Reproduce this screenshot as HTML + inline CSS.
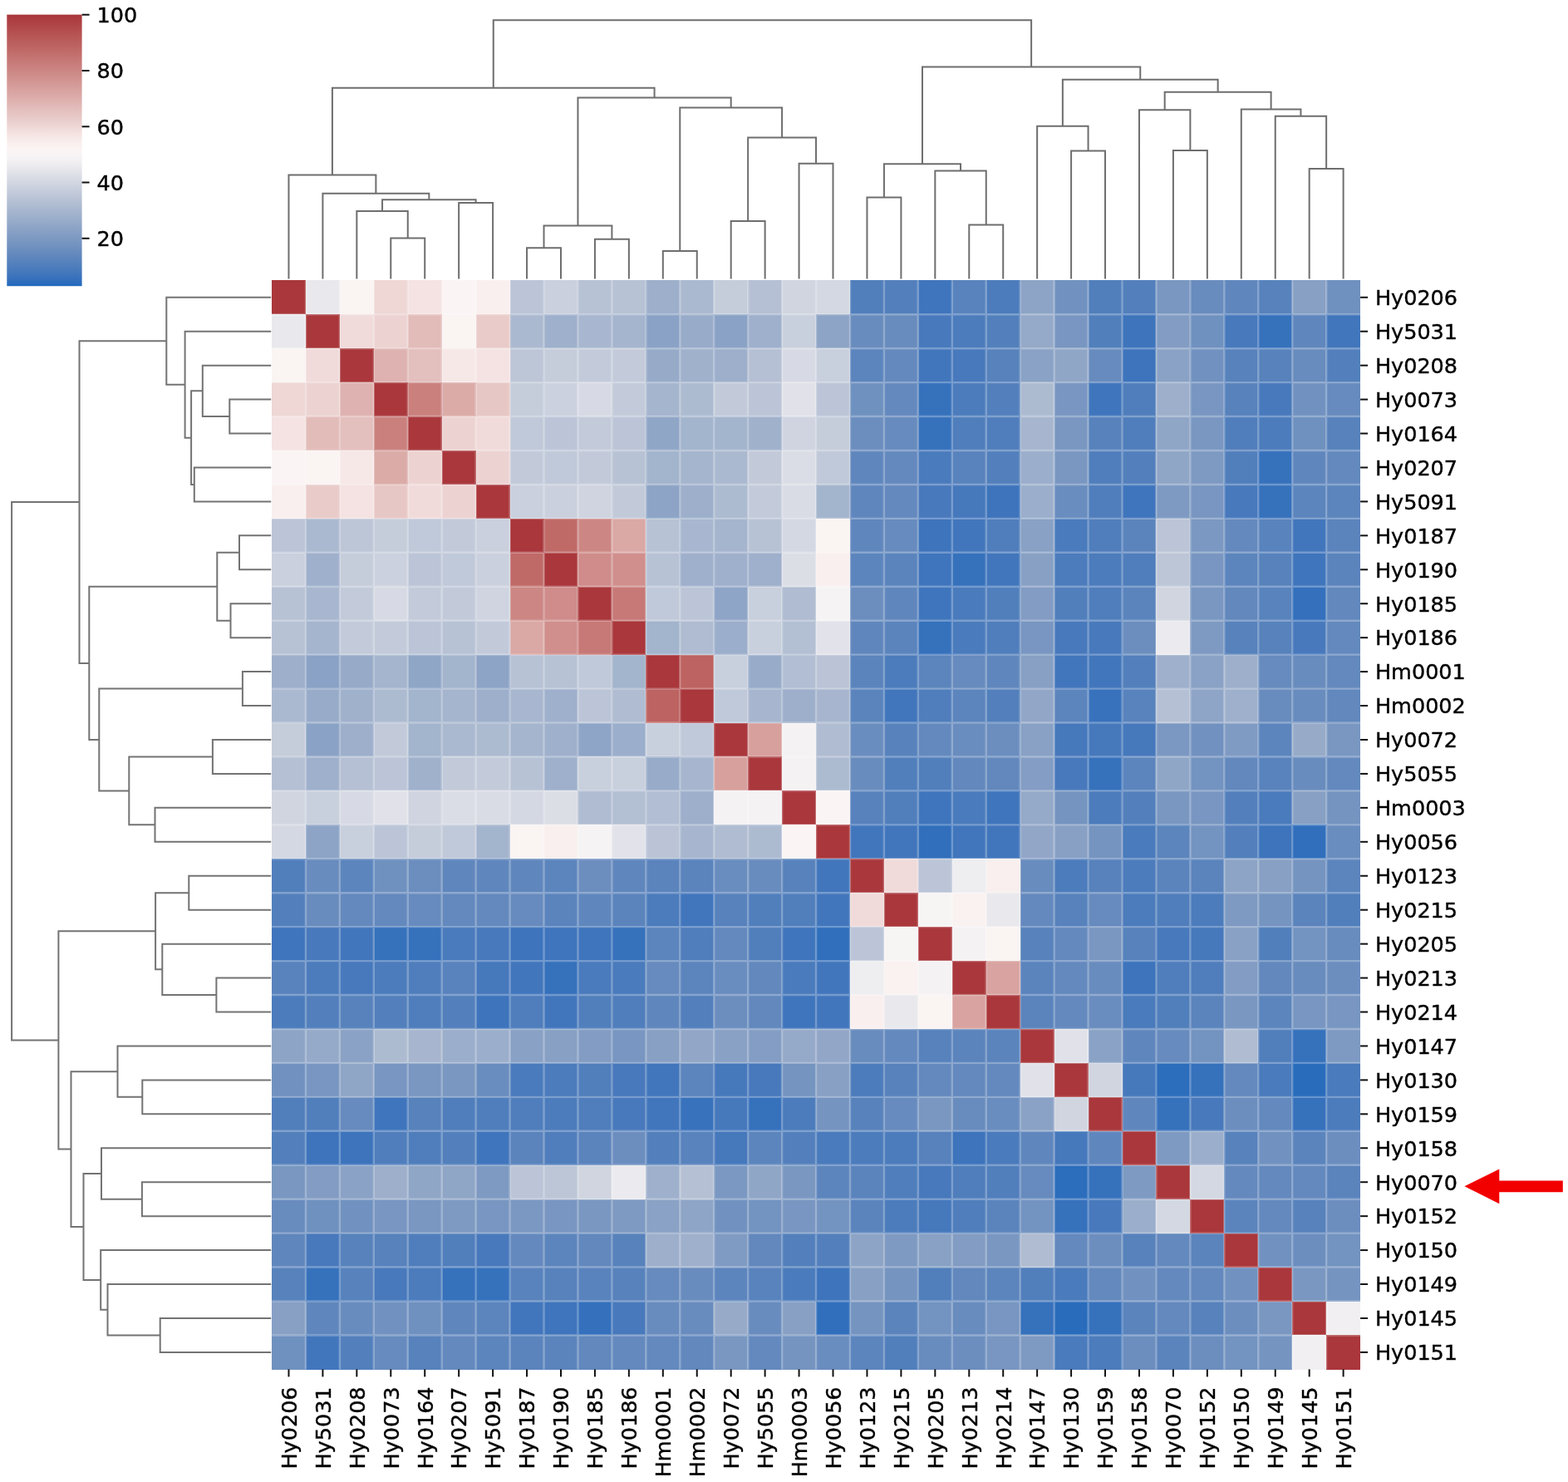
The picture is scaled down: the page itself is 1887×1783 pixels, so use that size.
<!DOCTYPE html><html><head><meta charset="utf-8"><title>Clustermap</title><style>html,body{margin:0;padding:0;background:#fff;}svg{display:block;}text{font-family:"DejaVu Sans","Liberation Sans",sans-serif;stroke:#000;stroke-width:0.4px;}</style></head><body>
<svg width="1887" height="1783" viewBox="0 0 1887 1783">
<rect x="0" y="0" width="1887" height="1783" fill="#fff"/>
<defs><linearGradient id="cb" x1="0" y1="0" x2="0" y2="1"><stop offset="0.0000" stop-color="#a9373b"/><stop offset="0.0312" stop-color="#ae4244"/><stop offset="0.0625" stop-color="#b44f4f"/><stop offset="0.0938" stop-color="#b95b5a"/><stop offset="0.1250" stop-color="#bf6765"/><stop offset="0.1562" stop-color="#c47371"/><stop offset="0.1875" stop-color="#c97f7d"/><stop offset="0.2188" stop-color="#ce8b88"/><stop offset="0.2500" stop-color="#d39794"/><stop offset="0.2812" stop-color="#d8a3a0"/><stop offset="0.3125" stop-color="#ddafad"/><stop offset="0.3438" stop-color="#e2bcb9"/><stop offset="0.3750" stop-color="#e7c8c6"/><stop offset="0.4062" stop-color="#edd5d3"/><stop offset="0.4375" stop-color="#f3e2e0"/><stop offset="0.4688" stop-color="#f9eeed"/><stop offset="0.5000" stop-color="#faf5f4"/><stop offset="0.5312" stop-color="#f5f2f4"/><stop offset="0.5625" stop-color="#e9e9ed"/><stop offset="0.5938" stop-color="#dcdee6"/><stop offset="0.6250" stop-color="#cfd4e0"/><stop offset="0.6562" stop-color="#c2cada"/><stop offset="0.6875" stop-color="#b5c0d4"/><stop offset="0.7188" stop-color="#a8b7cf"/><stop offset="0.7500" stop-color="#9baecb"/><stop offset="0.7812" stop-color="#8fa5c7"/><stop offset="0.8125" stop-color="#829cc3"/><stop offset="0.8438" stop-color="#7594c0"/><stop offset="0.8750" stop-color="#678bbe"/><stop offset="0.9062" stop-color="#5983bd"/><stop offset="0.9375" stop-color="#4a7bbc"/><stop offset="0.9688" stop-color="#3972bc"/><stop offset="1.0000" stop-color="#2369bd"/></linearGradient></defs>
<rect x="8.3" y="17.6" width="90.3" height="326.6" fill="url(#cb)"/>
<line x1="98.6" y1="286.8" x2="107.6" y2="286.8" stroke="#111" stroke-width="2"/>
<text x="116.5" y="296.1" font-size="25.5" fill="#000">20</text>
<line x1="98.6" y1="219.5" x2="107.6" y2="219.5" stroke="#111" stroke-width="2"/>
<text x="116.5" y="228.8" font-size="25.5" fill="#000">40</text>
<line x1="98.6" y1="152.3" x2="107.6" y2="152.3" stroke="#111" stroke-width="2"/>
<text x="116.5" y="161.6" font-size="25.5" fill="#000">60</text>
<line x1="98.6" y1="85.0" x2="107.6" y2="85.0" stroke="#111" stroke-width="2"/>
<text x="116.5" y="94.3" font-size="25.5" fill="#000">80</text>
<line x1="98.6" y1="17.7" x2="107.6" y2="17.7" stroke="#111" stroke-width="2"/>
<text x="116.5" y="27.0" font-size="25.5" fill="#000">100</text>
<g shape-rendering="crispEdges"><rect x="327.00" y="337.30" width="41.24" height="41.24" fill="#a9373b"/><rect x="367.94" y="337.30" width="41.24" height="41.24" fill="#e9e9ed"/><rect x="408.88" y="337.30" width="41.24" height="41.24" fill="#faf4f3"/><rect x="449.82" y="337.30" width="41.24" height="41.24" fill="#eed7d5"/><rect x="490.76" y="337.30" width="41.24" height="41.24" fill="#f4e3e2"/><rect x="531.70" y="337.30" width="41.24" height="41.24" fill="#faf5f4"/><rect x="572.64" y="337.30" width="41.24" height="41.24" fill="#f9efee"/><rect x="613.58" y="337.30" width="41.24" height="41.24" fill="#bbc5d7"/><rect x="654.52" y="337.30" width="41.24" height="41.24" fill="#cad0dd"/><rect x="695.46" y="337.30" width="41.24" height="41.24" fill="#b7c2d5"/><rect x="736.40" y="337.30" width="41.24" height="41.24" fill="#b7c2d5"/><rect x="777.34" y="337.30" width="41.24" height="41.24" fill="#9dafcb"/><rect x="818.28" y="337.30" width="41.24" height="41.24" fill="#abb9d0"/><rect x="859.22" y="337.30" width="41.24" height="41.24" fill="#c5cddb"/><rect x="900.16" y="337.30" width="41.24" height="41.24" fill="#b5c0d4"/><rect x="941.10" y="337.30" width="41.24" height="41.24" fill="#d0d5e0"/><rect x="982.04" y="337.30" width="41.24" height="41.24" fill="#d4d8e2"/><rect x="1022.98" y="337.30" width="41.24" height="41.24" fill="#517fbc"/><rect x="1063.92" y="337.30" width="41.24" height="41.24" fill="#5380bc"/><rect x="1104.86" y="337.30" width="41.24" height="41.24" fill="#3f75bc"/><rect x="1145.80" y="337.30" width="41.24" height="41.24" fill="#5983bd"/><rect x="1186.74" y="337.30" width="41.24" height="41.24" fill="#4c7cbc"/><rect x="1227.68" y="337.30" width="41.24" height="41.24" fill="#8da4c6"/><rect x="1268.62" y="337.30" width="41.24" height="41.24" fill="#7192c0"/><rect x="1309.56" y="337.30" width="41.24" height="41.24" fill="#517fbc"/><rect x="1350.50" y="337.30" width="41.24" height="41.24" fill="#5380bc"/><rect x="1391.44" y="337.30" width="41.24" height="41.24" fill="#7997c1"/><rect x="1432.38" y="337.30" width="41.24" height="41.24" fill="#698cbe"/><rect x="1473.32" y="337.30" width="41.24" height="41.24" fill="#6087bd"/><rect x="1514.26" y="337.30" width="41.24" height="41.24" fill="#5782bc"/><rect x="1555.20" y="337.30" width="41.24" height="41.24" fill="#87a0c4"/><rect x="1596.14" y="337.30" width="41.24" height="41.24" fill="#6f91bf"/><rect x="327.00" y="378.24" width="41.24" height="41.24" fill="#e9e9ed"/><rect x="367.94" y="378.24" width="41.24" height="41.24" fill="#a9373b"/><rect x="408.88" y="378.24" width="41.24" height="41.24" fill="#f0dbda"/><rect x="449.82" y="378.24" width="41.24" height="41.24" fill="#ecd3d2"/><rect x="490.76" y="378.24" width="41.24" height="41.24" fill="#e2bcb9"/><rect x="531.70" y="378.24" width="41.24" height="41.24" fill="#faf4f3"/><rect x="572.64" y="378.24" width="41.24" height="41.24" fill="#e9cbc9"/><rect x="613.58" y="378.24" width="41.24" height="41.24" fill="#abb9d0"/><rect x="654.52" y="378.24" width="41.24" height="41.24" fill="#9fb0cc"/><rect x="695.46" y="378.24" width="41.24" height="41.24" fill="#a8b7cf"/><rect x="736.40" y="378.24" width="41.24" height="41.24" fill="#a5b5ce"/><rect x="777.34" y="378.24" width="41.24" height="41.24" fill="#8aa2c5"/><rect x="818.28" y="378.24" width="41.24" height="41.24" fill="#98acc9"/><rect x="859.22" y="378.24" width="41.24" height="41.24" fill="#8aa2c5"/><rect x="900.16" y="378.24" width="41.24" height="41.24" fill="#9fb0cc"/><rect x="941.10" y="378.24" width="41.24" height="41.24" fill="#c8cfdd"/><rect x="982.04" y="378.24" width="41.24" height="41.24" fill="#8da4c6"/><rect x="1022.98" y="378.24" width="41.24" height="41.24" fill="#698cbe"/><rect x="1063.92" y="378.24" width="41.24" height="41.24" fill="#698cbe"/><rect x="1104.86" y="378.24" width="41.24" height="41.24" fill="#4879bc"/><rect x="1145.80" y="378.24" width="41.24" height="41.24" fill="#4c7cbc"/><rect x="1186.74" y="378.24" width="41.24" height="41.24" fill="#5380bc"/><rect x="1227.68" y="378.24" width="41.24" height="41.24" fill="#95a9c8"/><rect x="1268.62" y="378.24" width="41.24" height="41.24" fill="#7896c1"/><rect x="1309.56" y="378.24" width="41.24" height="41.24" fill="#517fbc"/><rect x="1350.50" y="378.24" width="41.24" height="41.24" fill="#3d74bc"/><rect x="1391.44" y="378.24" width="41.24" height="41.24" fill="#829cc3"/><rect x="1432.38" y="378.24" width="41.24" height="41.24" fill="#6f91bf"/><rect x="1473.32" y="378.24" width="41.24" height="41.24" fill="#4879bc"/><rect x="1514.26" y="378.24" width="41.24" height="41.24" fill="#3671bc"/><rect x="1555.20" y="378.24" width="41.24" height="41.24" fill="#6087bd"/><rect x="1596.14" y="378.24" width="41.24" height="41.24" fill="#4276bc"/><rect x="327.00" y="419.18" width="41.24" height="41.24" fill="#faf4f3"/><rect x="367.94" y="419.18" width="41.24" height="41.24" fill="#f0dbda"/><rect x="408.88" y="419.18" width="41.24" height="41.24" fill="#a9373b"/><rect x="449.82" y="419.18" width="41.24" height="41.24" fill="#deb2b0"/><rect x="490.76" y="419.18" width="41.24" height="41.24" fill="#e3bfbd"/><rect x="531.70" y="419.18" width="41.24" height="41.24" fill="#f6e8e7"/><rect x="572.64" y="419.18" width="41.24" height="41.24" fill="#f4e3e2"/><rect x="613.58" y="419.18" width="41.24" height="41.24" fill="#bdc6d7"/><rect x="654.52" y="419.18" width="41.24" height="41.24" fill="#c5cddb"/><rect x="695.46" y="419.18" width="41.24" height="41.24" fill="#c3cbda"/><rect x="736.40" y="419.18" width="41.24" height="41.24" fill="#c3cbda"/><rect x="777.34" y="419.18" width="41.24" height="41.24" fill="#97abc9"/><rect x="818.28" y="419.18" width="41.24" height="41.24" fill="#a0b1cc"/><rect x="859.22" y="419.18" width="41.24" height="41.24" fill="#9dafcb"/><rect x="900.16" y="419.18" width="41.24" height="41.24" fill="#b5c0d4"/><rect x="941.10" y="419.18" width="41.24" height="41.24" fill="#d7dae4"/><rect x="982.04" y="419.18" width="41.24" height="41.24" fill="#c8cfdd"/><rect x="1022.98" y="419.18" width="41.24" height="41.24" fill="#5c85bd"/><rect x="1063.92" y="419.18" width="41.24" height="41.24" fill="#6489be"/><rect x="1104.86" y="419.18" width="41.24" height="41.24" fill="#4276bc"/><rect x="1145.80" y="419.18" width="41.24" height="41.24" fill="#4879bc"/><rect x="1186.74" y="419.18" width="41.24" height="41.24" fill="#5782bc"/><rect x="1227.68" y="419.18" width="41.24" height="41.24" fill="#8aa2c5"/><rect x="1268.62" y="419.18" width="41.24" height="41.24" fill="#90a6c7"/><rect x="1309.56" y="419.18" width="41.24" height="41.24" fill="#678bbe"/><rect x="1350.50" y="419.18" width="41.24" height="41.24" fill="#3d74bc"/><rect x="1391.44" y="419.18" width="41.24" height="41.24" fill="#8aa2c5"/><rect x="1432.38" y="419.18" width="41.24" height="41.24" fill="#7192c0"/><rect x="1473.32" y="419.18" width="41.24" height="41.24" fill="#5782bc"/><rect x="1514.26" y="419.18" width="41.24" height="41.24" fill="#5782bc"/><rect x="1555.20" y="419.18" width="41.24" height="41.24" fill="#698cbe"/><rect x="1596.14" y="419.18" width="41.24" height="41.24" fill="#5380bc"/><rect x="327.00" y="460.12" width="41.24" height="41.24" fill="#eed7d5"/><rect x="367.94" y="460.12" width="41.24" height="41.24" fill="#ecd3d2"/><rect x="408.88" y="460.12" width="41.24" height="41.24" fill="#deb2b0"/><rect x="449.82" y="460.12" width="41.24" height="41.24" fill="#a9373b"/><rect x="490.76" y="460.12" width="41.24" height="41.24" fill="#ca817e"/><rect x="531.70" y="460.12" width="41.24" height="41.24" fill="#dbaba8"/><rect x="572.64" y="460.12" width="41.24" height="41.24" fill="#e7c7c5"/><rect x="613.58" y="460.12" width="41.24" height="41.24" fill="#c5cddb"/><rect x="654.52" y="460.12" width="41.24" height="41.24" fill="#cbd1de"/><rect x="695.46" y="460.12" width="41.24" height="41.24" fill="#d7dae4"/><rect x="736.40" y="460.12" width="41.24" height="41.24" fill="#c3cbda"/><rect x="777.34" y="460.12" width="41.24" height="41.24" fill="#a5b5ce"/><rect x="818.28" y="460.12" width="41.24" height="41.24" fill="#adbbd1"/><rect x="859.22" y="460.12" width="41.24" height="41.24" fill="#c2cada"/><rect x="900.16" y="460.12" width="41.24" height="41.24" fill="#bbc5d7"/><rect x="941.10" y="460.12" width="41.24" height="41.24" fill="#e1e2e9"/><rect x="982.04" y="460.12" width="41.24" height="41.24" fill="#bbc5d7"/><rect x="1022.98" y="460.12" width="41.24" height="41.24" fill="#6f91bf"/><rect x="1063.92" y="460.12" width="41.24" height="41.24" fill="#6489be"/><rect x="1104.86" y="460.12" width="41.24" height="41.24" fill="#3671bc"/><rect x="1145.80" y="460.12" width="41.24" height="41.24" fill="#4c7cbc"/><rect x="1186.74" y="460.12" width="41.24" height="41.24" fill="#5380bc"/><rect x="1227.68" y="460.12" width="41.24" height="41.24" fill="#adbbd1"/><rect x="1268.62" y="460.12" width="41.24" height="41.24" fill="#7896c1"/><rect x="1309.56" y="460.12" width="41.24" height="41.24" fill="#3f75bc"/><rect x="1350.50" y="460.12" width="41.24" height="41.24" fill="#507ebc"/><rect x="1391.44" y="460.12" width="41.24" height="41.24" fill="#9dafcb"/><rect x="1432.38" y="460.12" width="41.24" height="41.24" fill="#7896c1"/><rect x="1473.32" y="460.12" width="41.24" height="41.24" fill="#5782bc"/><rect x="1514.26" y="460.12" width="41.24" height="41.24" fill="#4879bc"/><rect x="1555.20" y="460.12" width="41.24" height="41.24" fill="#7192c0"/><rect x="1596.14" y="460.12" width="41.24" height="41.24" fill="#678bbe"/><rect x="327.00" y="501.06" width="41.24" height="41.24" fill="#f4e3e2"/><rect x="367.94" y="501.06" width="41.24" height="41.24" fill="#e2bcb9"/><rect x="408.88" y="501.06" width="41.24" height="41.24" fill="#e3bfbd"/><rect x="449.82" y="501.06" width="41.24" height="41.24" fill="#ca817e"/><rect x="490.76" y="501.06" width="41.24" height="41.24" fill="#a9373b"/><rect x="531.70" y="501.06" width="41.24" height="41.24" fill="#ecd3d2"/><rect x="572.64" y="501.06" width="41.24" height="41.24" fill="#f0dbda"/><rect x="613.58" y="501.06" width="41.24" height="41.24" fill="#c0c9d9"/><rect x="654.52" y="501.06" width="41.24" height="41.24" fill="#bbc5d7"/><rect x="695.46" y="501.06" width="41.24" height="41.24" fill="#c3cbda"/><rect x="736.40" y="501.06" width="41.24" height="41.24" fill="#bbc5d7"/><rect x="777.34" y="501.06" width="41.24" height="41.24" fill="#90a6c7"/><rect x="818.28" y="501.06" width="41.24" height="41.24" fill="#a3b4cd"/><rect x="859.22" y="501.06" width="41.24" height="41.24" fill="#a3b4cd"/><rect x="900.16" y="501.06" width="41.24" height="41.24" fill="#a0b1cc"/><rect x="941.10" y="501.06" width="41.24" height="41.24" fill="#cfd4e0"/><rect x="982.04" y="501.06" width="41.24" height="41.24" fill="#c5cddb"/><rect x="1022.98" y="501.06" width="41.24" height="41.24" fill="#6c8ebf"/><rect x="1063.92" y="501.06" width="41.24" height="41.24" fill="#678bbe"/><rect x="1104.86" y="501.06" width="41.24" height="41.24" fill="#3671bc"/><rect x="1145.80" y="501.06" width="41.24" height="41.24" fill="#507ebc"/><rect x="1186.74" y="501.06" width="41.24" height="41.24" fill="#507ebc"/><rect x="1227.68" y="501.06" width="41.24" height="41.24" fill="#a7b6ce"/><rect x="1268.62" y="501.06" width="41.24" height="41.24" fill="#7997c1"/><rect x="1309.56" y="501.06" width="41.24" height="41.24" fill="#5782bc"/><rect x="1350.50" y="501.06" width="41.24" height="41.24" fill="#507ebc"/><rect x="1391.44" y="501.06" width="41.24" height="41.24" fill="#90a6c7"/><rect x="1432.38" y="501.06" width="41.24" height="41.24" fill="#7997c1"/><rect x="1473.32" y="501.06" width="41.24" height="41.24" fill="#507ebc"/><rect x="1514.26" y="501.06" width="41.24" height="41.24" fill="#4c7cbc"/><rect x="1555.20" y="501.06" width="41.24" height="41.24" fill="#6f91bf"/><rect x="1596.14" y="501.06" width="41.24" height="41.24" fill="#5782bc"/><rect x="327.00" y="542.00" width="41.24" height="41.24" fill="#faf5f4"/><rect x="367.94" y="542.00" width="41.24" height="41.24" fill="#faf4f3"/><rect x="408.88" y="542.00" width="41.24" height="41.24" fill="#f6e8e7"/><rect x="449.82" y="542.00" width="41.24" height="41.24" fill="#dbaba8"/><rect x="490.76" y="542.00" width="41.24" height="41.24" fill="#ecd3d2"/><rect x="531.70" y="542.00" width="41.24" height="41.24" fill="#a9373b"/><rect x="572.64" y="542.00" width="41.24" height="41.24" fill="#ecd3d2"/><rect x="613.58" y="542.00" width="41.24" height="41.24" fill="#c2cada"/><rect x="654.52" y="542.00" width="41.24" height="41.24" fill="#c0c9d9"/><rect x="695.46" y="542.00" width="41.24" height="41.24" fill="#c2cada"/><rect x="736.40" y="542.00" width="41.24" height="41.24" fill="#b7c2d5"/><rect x="777.34" y="542.00" width="41.24" height="41.24" fill="#a3b4cd"/><rect x="818.28" y="542.00" width="41.24" height="41.24" fill="#a5b5ce"/><rect x="859.22" y="542.00" width="41.24" height="41.24" fill="#abb9d0"/><rect x="900.16" y="542.00" width="41.24" height="41.24" fill="#c2cada"/><rect x="941.10" y="542.00" width="41.24" height="41.24" fill="#dadde5"/><rect x="982.04" y="542.00" width="41.24" height="41.24" fill="#c0c9d9"/><rect x="1022.98" y="542.00" width="41.24" height="41.24" fill="#6087bd"/><rect x="1063.92" y="542.00" width="41.24" height="41.24" fill="#6489be"/><rect x="1104.86" y="542.00" width="41.24" height="41.24" fill="#4a7bbc"/><rect x="1145.80" y="542.00" width="41.24" height="41.24" fill="#5983bd"/><rect x="1186.74" y="542.00" width="41.24" height="41.24" fill="#5380bc"/><rect x="1227.68" y="542.00" width="41.24" height="41.24" fill="#9baecb"/><rect x="1268.62" y="542.00" width="41.24" height="41.24" fill="#7997c1"/><rect x="1309.56" y="542.00" width="41.24" height="41.24" fill="#507ebc"/><rect x="1350.50" y="542.00" width="41.24" height="41.24" fill="#5380bc"/><rect x="1391.44" y="542.00" width="41.24" height="41.24" fill="#90a6c7"/><rect x="1432.38" y="542.00" width="41.24" height="41.24" fill="#7e9ac2"/><rect x="1473.32" y="542.00" width="41.24" height="41.24" fill="#517fbc"/><rect x="1514.26" y="542.00" width="41.24" height="41.24" fill="#3671bc"/><rect x="1555.20" y="542.00" width="41.24" height="41.24" fill="#6087bd"/><rect x="1596.14" y="542.00" width="41.24" height="41.24" fill="#6489be"/><rect x="327.00" y="582.94" width="41.24" height="41.24" fill="#f9efee"/><rect x="367.94" y="582.94" width="41.24" height="41.24" fill="#e9cbc9"/><rect x="408.88" y="582.94" width="41.24" height="41.24" fill="#f4e3e2"/><rect x="449.82" y="582.94" width="41.24" height="41.24" fill="#e7c7c5"/><rect x="490.76" y="582.94" width="41.24" height="41.24" fill="#f0dbda"/><rect x="531.70" y="582.94" width="41.24" height="41.24" fill="#ecd3d2"/><rect x="572.64" y="582.94" width="41.24" height="41.24" fill="#a9373b"/><rect x="613.58" y="582.94" width="41.24" height="41.24" fill="#cad0dd"/><rect x="654.52" y="582.94" width="41.24" height="41.24" fill="#cad0dd"/><rect x="695.46" y="582.94" width="41.24" height="41.24" fill="#cfd4e0"/><rect x="736.40" y="582.94" width="41.24" height="41.24" fill="#c2cada"/><rect x="777.34" y="582.94" width="41.24" height="41.24" fill="#8da4c6"/><rect x="818.28" y="582.94" width="41.24" height="41.24" fill="#9dafcb"/><rect x="859.22" y="582.94" width="41.24" height="41.24" fill="#adbbd1"/><rect x="900.16" y="582.94" width="41.24" height="41.24" fill="#c3cbda"/><rect x="941.10" y="582.94" width="41.24" height="41.24" fill="#d9dce5"/><rect x="982.04" y="582.94" width="41.24" height="41.24" fill="#a3b4cd"/><rect x="1022.98" y="582.94" width="41.24" height="41.24" fill="#6087bd"/><rect x="1063.92" y="582.94" width="41.24" height="41.24" fill="#6489be"/><rect x="1104.86" y="582.94" width="41.24" height="41.24" fill="#4879bc"/><rect x="1145.80" y="582.94" width="41.24" height="41.24" fill="#4678bc"/><rect x="1186.74" y="582.94" width="41.24" height="41.24" fill="#3d74bc"/><rect x="1227.68" y="582.94" width="41.24" height="41.24" fill="#9baecb"/><rect x="1268.62" y="582.94" width="41.24" height="41.24" fill="#6a8dbf"/><rect x="1309.56" y="582.94" width="41.24" height="41.24" fill="#507ebc"/><rect x="1350.50" y="582.94" width="41.24" height="41.24" fill="#3f75bc"/><rect x="1391.44" y="582.94" width="41.24" height="41.24" fill="#7e9ac2"/><rect x="1432.38" y="582.94" width="41.24" height="41.24" fill="#7896c1"/><rect x="1473.32" y="582.94" width="41.24" height="41.24" fill="#4879bc"/><rect x="1514.26" y="582.94" width="41.24" height="41.24" fill="#3671bc"/><rect x="1555.20" y="582.94" width="41.24" height="41.24" fill="#5c85bd"/><rect x="1596.14" y="582.94" width="41.24" height="41.24" fill="#5c85bd"/><rect x="327.00" y="623.88" width="41.24" height="41.24" fill="#bbc5d7"/><rect x="367.94" y="623.88" width="41.24" height="41.24" fill="#abb9d0"/><rect x="408.88" y="623.88" width="41.24" height="41.24" fill="#bdc6d7"/><rect x="449.82" y="623.88" width="41.24" height="41.24" fill="#c5cddb"/><rect x="490.76" y="623.88" width="41.24" height="41.24" fill="#c0c9d9"/><rect x="531.70" y="623.88" width="41.24" height="41.24" fill="#c2cada"/><rect x="572.64" y="623.88" width="41.24" height="41.24" fill="#cad0dd"/><rect x="613.58" y="623.88" width="41.24" height="41.24" fill="#a9373b"/><rect x="654.52" y="623.88" width="41.24" height="41.24" fill="#c06a68"/><rect x="695.46" y="623.88" width="41.24" height="41.24" fill="#cc8784"/><rect x="736.40" y="623.88" width="41.24" height="41.24" fill="#daa8a5"/><rect x="777.34" y="623.88" width="41.24" height="41.24" fill="#b7c2d5"/><rect x="818.28" y="623.88" width="41.24" height="41.24" fill="#a8b7cf"/><rect x="859.22" y="623.88" width="41.24" height="41.24" fill="#a5b5ce"/><rect x="900.16" y="623.88" width="41.24" height="41.24" fill="#b7c2d5"/><rect x="941.10" y="623.88" width="41.24" height="41.24" fill="#d4d8e2"/><rect x="982.04" y="623.88" width="41.24" height="41.24" fill="#faf4f3"/><rect x="1022.98" y="623.88" width="41.24" height="41.24" fill="#6087bd"/><rect x="1063.92" y="623.88" width="41.24" height="41.24" fill="#678bbe"/><rect x="1104.86" y="623.88" width="41.24" height="41.24" fill="#3d74bc"/><rect x="1145.80" y="623.88" width="41.24" height="41.24" fill="#4276bc"/><rect x="1186.74" y="623.88" width="41.24" height="41.24" fill="#507ebc"/><rect x="1227.68" y="623.88" width="41.24" height="41.24" fill="#88a1c5"/><rect x="1268.62" y="623.88" width="41.24" height="41.24" fill="#4a7bbc"/><rect x="1309.56" y="623.88" width="41.24" height="41.24" fill="#507ebc"/><rect x="1350.50" y="623.88" width="41.24" height="41.24" fill="#5b84bd"/><rect x="1391.44" y="623.88" width="41.24" height="41.24" fill="#bbc5d7"/><rect x="1432.38" y="623.88" width="41.24" height="41.24" fill="#7b98c2"/><rect x="1473.32" y="623.88" width="41.24" height="41.24" fill="#6489be"/><rect x="1514.26" y="623.88" width="41.24" height="41.24" fill="#5983bd"/><rect x="1555.20" y="623.88" width="41.24" height="41.24" fill="#4276bc"/><rect x="1596.14" y="623.88" width="41.24" height="41.24" fill="#5b84bd"/><rect x="327.00" y="664.82" width="41.24" height="41.24" fill="#cad0dd"/><rect x="367.94" y="664.82" width="41.24" height="41.24" fill="#9fb0cc"/><rect x="408.88" y="664.82" width="41.24" height="41.24" fill="#c5cddb"/><rect x="449.82" y="664.82" width="41.24" height="41.24" fill="#cbd1de"/><rect x="490.76" y="664.82" width="41.24" height="41.24" fill="#bbc5d7"/><rect x="531.70" y="664.82" width="41.24" height="41.24" fill="#c0c9d9"/><rect x="572.64" y="664.82" width="41.24" height="41.24" fill="#cad0dd"/><rect x="613.58" y="664.82" width="41.24" height="41.24" fill="#c06a68"/><rect x="654.52" y="664.82" width="41.24" height="41.24" fill="#a9373b"/><rect x="695.46" y="664.82" width="41.24" height="41.24" fill="#cf8c8a"/><rect x="736.40" y="664.82" width="41.24" height="41.24" fill="#d08f8d"/><rect x="777.34" y="664.82" width="41.24" height="41.24" fill="#b7c2d5"/><rect x="818.28" y="664.82" width="41.24" height="41.24" fill="#9fb0cc"/><rect x="859.22" y="664.82" width="41.24" height="41.24" fill="#9fb0cc"/><rect x="900.16" y="664.82" width="41.24" height="41.24" fill="#9fb0cc"/><rect x="941.10" y="664.82" width="41.24" height="41.24" fill="#dcdee6"/><rect x="982.04" y="664.82" width="41.24" height="41.24" fill="#f9efee"/><rect x="1022.98" y="664.82" width="41.24" height="41.24" fill="#5c85bd"/><rect x="1063.92" y="664.82" width="41.24" height="41.24" fill="#5b84bd"/><rect x="1104.86" y="664.82" width="41.24" height="41.24" fill="#3f75bc"/><rect x="1145.80" y="664.82" width="41.24" height="41.24" fill="#3671bc"/><rect x="1186.74" y="664.82" width="41.24" height="41.24" fill="#4276bc"/><rect x="1227.68" y="664.82" width="41.24" height="41.24" fill="#87a0c4"/><rect x="1268.62" y="664.82" width="41.24" height="41.24" fill="#4c7cbc"/><rect x="1309.56" y="664.82" width="41.24" height="41.24" fill="#4c7cbc"/><rect x="1350.50" y="664.82" width="41.24" height="41.24" fill="#507ebc"/><rect x="1391.44" y="664.82" width="41.24" height="41.24" fill="#bdc6d7"/><rect x="1432.38" y="664.82" width="41.24" height="41.24" fill="#7896c1"/><rect x="1473.32" y="664.82" width="41.24" height="41.24" fill="#5c85bd"/><rect x="1514.26" y="664.82" width="41.24" height="41.24" fill="#5782bc"/><rect x="1555.20" y="664.82" width="41.24" height="41.24" fill="#3f75bc"/><rect x="1596.14" y="664.82" width="41.24" height="41.24" fill="#5b84bd"/><rect x="327.00" y="705.76" width="41.24" height="41.24" fill="#b7c2d5"/><rect x="367.94" y="705.76" width="41.24" height="41.24" fill="#a8b7cf"/><rect x="408.88" y="705.76" width="41.24" height="41.24" fill="#c3cbda"/><rect x="449.82" y="705.76" width="41.24" height="41.24" fill="#d7dae4"/><rect x="490.76" y="705.76" width="41.24" height="41.24" fill="#c3cbda"/><rect x="531.70" y="705.76" width="41.24" height="41.24" fill="#c2cada"/><rect x="572.64" y="705.76" width="41.24" height="41.24" fill="#cfd4e0"/><rect x="613.58" y="705.76" width="41.24" height="41.24" fill="#cc8784"/><rect x="654.52" y="705.76" width="41.24" height="41.24" fill="#cf8c8a"/><rect x="695.46" y="705.76" width="41.24" height="41.24" fill="#a9373b"/><rect x="736.40" y="705.76" width="41.24" height="41.24" fill="#c77977"/><rect x="777.34" y="705.76" width="41.24" height="41.24" fill="#c0c9d9"/><rect x="818.28" y="705.76" width="41.24" height="41.24" fill="#bbc5d7"/><rect x="859.22" y="705.76" width="41.24" height="41.24" fill="#8fa5c7"/><rect x="900.16" y="705.76" width="41.24" height="41.24" fill="#c8cfdd"/><rect x="941.10" y="705.76" width="41.24" height="41.24" fill="#afbcd1"/><rect x="982.04" y="705.76" width="41.24" height="41.24" fill="#f6f3f4"/><rect x="1022.98" y="705.76" width="41.24" height="41.24" fill="#6c8ebf"/><rect x="1063.92" y="705.76" width="41.24" height="41.24" fill="#6087bd"/><rect x="1104.86" y="705.76" width="41.24" height="41.24" fill="#3f75bc"/><rect x="1145.80" y="705.76" width="41.24" height="41.24" fill="#4a7bbc"/><rect x="1186.74" y="705.76" width="41.24" height="41.24" fill="#517fbc"/><rect x="1227.68" y="705.76" width="41.24" height="41.24" fill="#829cc3"/><rect x="1268.62" y="705.76" width="41.24" height="41.24" fill="#517fbc"/><rect x="1309.56" y="705.76" width="41.24" height="41.24" fill="#507ebc"/><rect x="1350.50" y="705.76" width="41.24" height="41.24" fill="#5b84bd"/><rect x="1391.44" y="705.76" width="41.24" height="41.24" fill="#d0d5e0"/><rect x="1432.38" y="705.76" width="41.24" height="41.24" fill="#7997c1"/><rect x="1473.32" y="705.76" width="41.24" height="41.24" fill="#6288bd"/><rect x="1514.26" y="705.76" width="41.24" height="41.24" fill="#5983bd"/><rect x="1555.20" y="705.76" width="41.24" height="41.24" fill="#3470bc"/><rect x="1596.14" y="705.76" width="41.24" height="41.24" fill="#6288bd"/><rect x="327.00" y="746.70" width="41.24" height="41.24" fill="#b7c2d5"/><rect x="367.94" y="746.70" width="41.24" height="41.24" fill="#a5b5ce"/><rect x="408.88" y="746.70" width="41.24" height="41.24" fill="#c3cbda"/><rect x="449.82" y="746.70" width="41.24" height="41.24" fill="#c3cbda"/><rect x="490.76" y="746.70" width="41.24" height="41.24" fill="#bbc5d7"/><rect x="531.70" y="746.70" width="41.24" height="41.24" fill="#b7c2d5"/><rect x="572.64" y="746.70" width="41.24" height="41.24" fill="#c2cada"/><rect x="613.58" y="746.70" width="41.24" height="41.24" fill="#daa8a5"/><rect x="654.52" y="746.70" width="41.24" height="41.24" fill="#d08f8d"/><rect x="695.46" y="746.70" width="41.24" height="41.24" fill="#c77977"/><rect x="736.40" y="746.70" width="41.24" height="41.24" fill="#a9373b"/><rect x="777.34" y="746.70" width="41.24" height="41.24" fill="#a3b4cd"/><rect x="818.28" y="746.70" width="41.24" height="41.24" fill="#afbcd1"/><rect x="859.22" y="746.70" width="41.24" height="41.24" fill="#9baecb"/><rect x="900.16" y="746.70" width="41.24" height="41.24" fill="#c8cfdd"/><rect x="941.10" y="746.70" width="41.24" height="41.24" fill="#b3bfd3"/><rect x="982.04" y="746.70" width="41.24" height="41.24" fill="#e2e3ea"/><rect x="1022.98" y="746.70" width="41.24" height="41.24" fill="#6087bd"/><rect x="1063.92" y="746.70" width="41.24" height="41.24" fill="#5b84bd"/><rect x="1104.86" y="746.70" width="41.24" height="41.24" fill="#3671bc"/><rect x="1145.80" y="746.70" width="41.24" height="41.24" fill="#4a7bbc"/><rect x="1186.74" y="746.70" width="41.24" height="41.24" fill="#507ebc"/><rect x="1227.68" y="746.70" width="41.24" height="41.24" fill="#7896c1"/><rect x="1268.62" y="746.70" width="41.24" height="41.24" fill="#4879bc"/><rect x="1309.56" y="746.70" width="41.24" height="41.24" fill="#4879bc"/><rect x="1350.50" y="746.70" width="41.24" height="41.24" fill="#6c8ebf"/><rect x="1391.44" y="746.70" width="41.24" height="41.24" fill="#ebeaee"/><rect x="1432.38" y="746.70" width="41.24" height="41.24" fill="#7e9ac2"/><rect x="1473.32" y="746.70" width="41.24" height="41.24" fill="#5782bc"/><rect x="1514.26" y="746.70" width="41.24" height="41.24" fill="#5782bc"/><rect x="1555.20" y="746.70" width="41.24" height="41.24" fill="#4879bc"/><rect x="1596.14" y="746.70" width="41.24" height="41.24" fill="#6489be"/><rect x="327.00" y="787.64" width="41.24" height="41.24" fill="#9dafcb"/><rect x="367.94" y="787.64" width="41.24" height="41.24" fill="#8aa2c5"/><rect x="408.88" y="787.64" width="41.24" height="41.24" fill="#97abc9"/><rect x="449.82" y="787.64" width="41.24" height="41.24" fill="#a5b5ce"/><rect x="490.76" y="787.64" width="41.24" height="41.24" fill="#90a6c7"/><rect x="531.70" y="787.64" width="41.24" height="41.24" fill="#a3b4cd"/><rect x="572.64" y="787.64" width="41.24" height="41.24" fill="#8da4c6"/><rect x="613.58" y="787.64" width="41.24" height="41.24" fill="#b7c2d5"/><rect x="654.52" y="787.64" width="41.24" height="41.24" fill="#b7c2d5"/><rect x="695.46" y="787.64" width="41.24" height="41.24" fill="#c0c9d9"/><rect x="736.40" y="787.64" width="41.24" height="41.24" fill="#a3b4cd"/><rect x="777.34" y="787.64" width="41.24" height="41.24" fill="#a9373b"/><rect x="818.28" y="787.64" width="41.24" height="41.24" fill="#bd6361"/><rect x="859.22" y="787.64" width="41.24" height="41.24" fill="#c8cfdd"/><rect x="900.16" y="787.64" width="41.24" height="41.24" fill="#98acc9"/><rect x="941.10" y="787.64" width="41.24" height="41.24" fill="#b2bed3"/><rect x="982.04" y="787.64" width="41.24" height="41.24" fill="#bac4d6"/><rect x="1022.98" y="787.64" width="41.24" height="41.24" fill="#5b84bd"/><rect x="1063.92" y="787.64" width="41.24" height="41.24" fill="#4c7cbc"/><rect x="1104.86" y="787.64" width="41.24" height="41.24" fill="#5c85bd"/><rect x="1145.80" y="787.64" width="41.24" height="41.24" fill="#678bbe"/><rect x="1186.74" y="787.64" width="41.24" height="41.24" fill="#6087bd"/><rect x="1227.68" y="787.64" width="41.24" height="41.24" fill="#87a0c4"/><rect x="1268.62" y="787.64" width="41.24" height="41.24" fill="#4276bc"/><rect x="1309.56" y="787.64" width="41.24" height="41.24" fill="#4276bc"/><rect x="1350.50" y="787.64" width="41.24" height="41.24" fill="#5380bc"/><rect x="1391.44" y="787.64" width="41.24" height="41.24" fill="#9fb0cc"/><rect x="1432.38" y="787.64" width="41.24" height="41.24" fill="#8aa2c5"/><rect x="1473.32" y="787.64" width="41.24" height="41.24" fill="#9dafcb"/><rect x="1514.26" y="787.64" width="41.24" height="41.24" fill="#678bbe"/><rect x="1555.20" y="787.64" width="41.24" height="41.24" fill="#698cbe"/><rect x="1596.14" y="787.64" width="41.24" height="41.24" fill="#6489be"/><rect x="327.00" y="828.58" width="41.24" height="41.24" fill="#abb9d0"/><rect x="367.94" y="828.58" width="41.24" height="41.24" fill="#98acc9"/><rect x="408.88" y="828.58" width="41.24" height="41.24" fill="#a0b1cc"/><rect x="449.82" y="828.58" width="41.24" height="41.24" fill="#adbbd1"/><rect x="490.76" y="828.58" width="41.24" height="41.24" fill="#a3b4cd"/><rect x="531.70" y="828.58" width="41.24" height="41.24" fill="#a5b5ce"/><rect x="572.64" y="828.58" width="41.24" height="41.24" fill="#9dafcb"/><rect x="613.58" y="828.58" width="41.24" height="41.24" fill="#a8b7cf"/><rect x="654.52" y="828.58" width="41.24" height="41.24" fill="#9fb0cc"/><rect x="695.46" y="828.58" width="41.24" height="41.24" fill="#bbc5d7"/><rect x="736.40" y="828.58" width="41.24" height="41.24" fill="#afbcd1"/><rect x="777.34" y="828.58" width="41.24" height="41.24" fill="#bd6361"/><rect x="818.28" y="828.58" width="41.24" height="41.24" fill="#a9373b"/><rect x="859.22" y="828.58" width="41.24" height="41.24" fill="#c0c9d9"/><rect x="900.16" y="828.58" width="41.24" height="41.24" fill="#a7b6ce"/><rect x="941.10" y="828.58" width="41.24" height="41.24" fill="#9dafcb"/><rect x="982.04" y="828.58" width="41.24" height="41.24" fill="#a7b6ce"/><rect x="1022.98" y="828.58" width="41.24" height="41.24" fill="#5b84bd"/><rect x="1063.92" y="828.58" width="41.24" height="41.24" fill="#4276bc"/><rect x="1104.86" y="828.58" width="41.24" height="41.24" fill="#507ebc"/><rect x="1145.80" y="828.58" width="41.24" height="41.24" fill="#5c85bd"/><rect x="1186.74" y="828.58" width="41.24" height="41.24" fill="#5380bc"/><rect x="1227.68" y="828.58" width="41.24" height="41.24" fill="#92a7c8"/><rect x="1268.62" y="828.58" width="41.24" height="41.24" fill="#5c85bd"/><rect x="1309.56" y="828.58" width="41.24" height="41.24" fill="#3972bc"/><rect x="1350.50" y="828.58" width="41.24" height="41.24" fill="#5983bd"/><rect x="1391.44" y="828.58" width="41.24" height="41.24" fill="#b5c0d4"/><rect x="1432.38" y="828.58" width="41.24" height="41.24" fill="#8fa5c7"/><rect x="1473.32" y="828.58" width="41.24" height="41.24" fill="#9fb0cc"/><rect x="1514.26" y="828.58" width="41.24" height="41.24" fill="#698cbe"/><rect x="1555.20" y="828.58" width="41.24" height="41.24" fill="#698cbe"/><rect x="1596.14" y="828.58" width="41.24" height="41.24" fill="#6288bd"/><rect x="327.00" y="869.52" width="41.24" height="41.24" fill="#c5cddb"/><rect x="367.94" y="869.52" width="41.24" height="41.24" fill="#8aa2c5"/><rect x="408.88" y="869.52" width="41.24" height="41.24" fill="#9dafcb"/><rect x="449.82" y="869.52" width="41.24" height="41.24" fill="#c2cada"/><rect x="490.76" y="869.52" width="41.24" height="41.24" fill="#a3b4cd"/><rect x="531.70" y="869.52" width="41.24" height="41.24" fill="#abb9d0"/><rect x="572.64" y="869.52" width="41.24" height="41.24" fill="#adbbd1"/><rect x="613.58" y="869.52" width="41.24" height="41.24" fill="#a5b5ce"/><rect x="654.52" y="869.52" width="41.24" height="41.24" fill="#9fb0cc"/><rect x="695.46" y="869.52" width="41.24" height="41.24" fill="#8fa5c7"/><rect x="736.40" y="869.52" width="41.24" height="41.24" fill="#9baecb"/><rect x="777.34" y="869.52" width="41.24" height="41.24" fill="#c8cfdd"/><rect x="818.28" y="869.52" width="41.24" height="41.24" fill="#c0c9d9"/><rect x="859.22" y="869.52" width="41.24" height="41.24" fill="#a9373b"/><rect x="900.16" y="869.52" width="41.24" height="41.24" fill="#d7a09d"/><rect x="941.10" y="869.52" width="41.24" height="41.24" fill="#f5f2f4"/><rect x="982.04" y="869.52" width="41.24" height="41.24" fill="#afbcd1"/><rect x="1022.98" y="869.52" width="41.24" height="41.24" fill="#6a8dbf"/><rect x="1063.92" y="869.52" width="41.24" height="41.24" fill="#5782bc"/><rect x="1104.86" y="869.52" width="41.24" height="41.24" fill="#6489be"/><rect x="1145.80" y="869.52" width="41.24" height="41.24" fill="#6a8dbf"/><rect x="1186.74" y="869.52" width="41.24" height="41.24" fill="#6c8ebf"/><rect x="1227.68" y="869.52" width="41.24" height="41.24" fill="#88a1c5"/><rect x="1268.62" y="869.52" width="41.24" height="41.24" fill="#4678bc"/><rect x="1309.56" y="869.52" width="41.24" height="41.24" fill="#4678bc"/><rect x="1350.50" y="869.52" width="41.24" height="41.24" fill="#4678bc"/><rect x="1391.44" y="869.52" width="41.24" height="41.24" fill="#7b98c2"/><rect x="1432.38" y="869.52" width="41.24" height="41.24" fill="#7192c0"/><rect x="1473.32" y="869.52" width="41.24" height="41.24" fill="#809bc3"/><rect x="1514.26" y="869.52" width="41.24" height="41.24" fill="#5c85bd"/><rect x="1555.20" y="869.52" width="41.24" height="41.24" fill="#97abc9"/><rect x="1596.14" y="869.52" width="41.24" height="41.24" fill="#7997c1"/><rect x="327.00" y="910.46" width="41.24" height="41.24" fill="#b5c0d4"/><rect x="367.94" y="910.46" width="41.24" height="41.24" fill="#9fb0cc"/><rect x="408.88" y="910.46" width="41.24" height="41.24" fill="#b5c0d4"/><rect x="449.82" y="910.46" width="41.24" height="41.24" fill="#bbc5d7"/><rect x="490.76" y="910.46" width="41.24" height="41.24" fill="#a0b1cc"/><rect x="531.70" y="910.46" width="41.24" height="41.24" fill="#c2cada"/><rect x="572.64" y="910.46" width="41.24" height="41.24" fill="#c3cbda"/><rect x="613.58" y="910.46" width="41.24" height="41.24" fill="#b7c2d5"/><rect x="654.52" y="910.46" width="41.24" height="41.24" fill="#9fb0cc"/><rect x="695.46" y="910.46" width="41.24" height="41.24" fill="#c8cfdd"/><rect x="736.40" y="910.46" width="41.24" height="41.24" fill="#c8cfdd"/><rect x="777.34" y="910.46" width="41.24" height="41.24" fill="#98acc9"/><rect x="818.28" y="910.46" width="41.24" height="41.24" fill="#a7b6ce"/><rect x="859.22" y="910.46" width="41.24" height="41.24" fill="#d7a09d"/><rect x="900.16" y="910.46" width="41.24" height="41.24" fill="#a9373b"/><rect x="941.10" y="910.46" width="41.24" height="41.24" fill="#f5f2f4"/><rect x="982.04" y="910.46" width="41.24" height="41.24" fill="#adbbd1"/><rect x="1022.98" y="910.46" width="41.24" height="41.24" fill="#698cbe"/><rect x="1063.92" y="910.46" width="41.24" height="41.24" fill="#517fbc"/><rect x="1104.86" y="910.46" width="41.24" height="41.24" fill="#517fbc"/><rect x="1145.80" y="910.46" width="41.24" height="41.24" fill="#6288bd"/><rect x="1186.74" y="910.46" width="41.24" height="41.24" fill="#6288bd"/><rect x="1227.68" y="910.46" width="41.24" height="41.24" fill="#839dc4"/><rect x="1268.62" y="910.46" width="41.24" height="41.24" fill="#4879bc"/><rect x="1309.56" y="910.46" width="41.24" height="41.24" fill="#3671bc"/><rect x="1350.50" y="910.46" width="41.24" height="41.24" fill="#5c85bd"/><rect x="1391.44" y="910.46" width="41.24" height="41.24" fill="#90a6c7"/><rect x="1432.38" y="910.46" width="41.24" height="41.24" fill="#7393c0"/><rect x="1473.32" y="910.46" width="41.24" height="41.24" fill="#6288bd"/><rect x="1514.26" y="910.46" width="41.24" height="41.24" fill="#5983bd"/><rect x="1555.20" y="910.46" width="41.24" height="41.24" fill="#698cbe"/><rect x="1596.14" y="910.46" width="41.24" height="41.24" fill="#6489be"/><rect x="327.00" y="951.40" width="41.24" height="41.24" fill="#d0d5e0"/><rect x="367.94" y="951.40" width="41.24" height="41.24" fill="#c8cfdd"/><rect x="408.88" y="951.40" width="41.24" height="41.24" fill="#d7dae4"/><rect x="449.82" y="951.40" width="41.24" height="41.24" fill="#e1e2e9"/><rect x="490.76" y="951.40" width="41.24" height="41.24" fill="#cfd4e0"/><rect x="531.70" y="951.40" width="41.24" height="41.24" fill="#dadde5"/><rect x="572.64" y="951.40" width="41.24" height="41.24" fill="#d9dce5"/><rect x="613.58" y="951.40" width="41.24" height="41.24" fill="#d4d8e2"/><rect x="654.52" y="951.40" width="41.24" height="41.24" fill="#dcdee6"/><rect x="695.46" y="951.40" width="41.24" height="41.24" fill="#afbcd1"/><rect x="736.40" y="951.40" width="41.24" height="41.24" fill="#b3bfd3"/><rect x="777.34" y="951.40" width="41.24" height="41.24" fill="#b2bed3"/><rect x="818.28" y="951.40" width="41.24" height="41.24" fill="#9dafcb"/><rect x="859.22" y="951.40" width="41.24" height="41.24" fill="#f5f2f4"/><rect x="900.16" y="951.40" width="41.24" height="41.24" fill="#f5f2f4"/><rect x="941.10" y="951.40" width="41.24" height="41.24" fill="#a9373b"/><rect x="982.04" y="951.40" width="41.24" height="41.24" fill="#faf5f4"/><rect x="1022.98" y="951.40" width="41.24" height="41.24" fill="#5782bc"/><rect x="1063.92" y="951.40" width="41.24" height="41.24" fill="#517fbc"/><rect x="1104.86" y="951.40" width="41.24" height="41.24" fill="#3f75bc"/><rect x="1145.80" y="951.40" width="41.24" height="41.24" fill="#4a7bbc"/><rect x="1186.74" y="951.40" width="41.24" height="41.24" fill="#3f75bc"/><rect x="1227.68" y="951.40" width="41.24" height="41.24" fill="#95a9c8"/><rect x="1268.62" y="951.40" width="41.24" height="41.24" fill="#7594c0"/><rect x="1309.56" y="951.40" width="41.24" height="41.24" fill="#4c7cbc"/><rect x="1350.50" y="951.40" width="41.24" height="41.24" fill="#5380bc"/><rect x="1391.44" y="951.40" width="41.24" height="41.24" fill="#7997c1"/><rect x="1432.38" y="951.40" width="41.24" height="41.24" fill="#7896c1"/><rect x="1473.32" y="951.40" width="41.24" height="41.24" fill="#5380bc"/><rect x="1514.26" y="951.40" width="41.24" height="41.24" fill="#4a7bbc"/><rect x="1555.20" y="951.40" width="41.24" height="41.24" fill="#87a0c4"/><rect x="1596.14" y="951.40" width="41.24" height="41.24" fill="#7594c0"/><rect x="327.00" y="992.34" width="41.24" height="41.24" fill="#d4d8e2"/><rect x="367.94" y="992.34" width="41.24" height="41.24" fill="#8da4c6"/><rect x="408.88" y="992.34" width="41.24" height="41.24" fill="#c8cfdd"/><rect x="449.82" y="992.34" width="41.24" height="41.24" fill="#bbc5d7"/><rect x="490.76" y="992.34" width="41.24" height="41.24" fill="#c5cddb"/><rect x="531.70" y="992.34" width="41.24" height="41.24" fill="#c0c9d9"/><rect x="572.64" y="992.34" width="41.24" height="41.24" fill="#a3b4cd"/><rect x="613.58" y="992.34" width="41.24" height="41.24" fill="#faf4f3"/><rect x="654.52" y="992.34" width="41.24" height="41.24" fill="#f9efee"/><rect x="695.46" y="992.34" width="41.24" height="41.24" fill="#f6f3f4"/><rect x="736.40" y="992.34" width="41.24" height="41.24" fill="#e2e3ea"/><rect x="777.34" y="992.34" width="41.24" height="41.24" fill="#bac4d6"/><rect x="818.28" y="992.34" width="41.24" height="41.24" fill="#a7b6ce"/><rect x="859.22" y="992.34" width="41.24" height="41.24" fill="#afbcd1"/><rect x="900.16" y="992.34" width="41.24" height="41.24" fill="#adbbd1"/><rect x="941.10" y="992.34" width="41.24" height="41.24" fill="#faf5f4"/><rect x="982.04" y="992.34" width="41.24" height="41.24" fill="#a9373b"/><rect x="1022.98" y="992.34" width="41.24" height="41.24" fill="#4276bc"/><rect x="1063.92" y="992.34" width="41.24" height="41.24" fill="#4276bc"/><rect x="1104.86" y="992.34" width="41.24" height="41.24" fill="#316fbc"/><rect x="1145.80" y="992.34" width="41.24" height="41.24" fill="#4276bc"/><rect x="1186.74" y="992.34" width="41.24" height="41.24" fill="#4276bc"/><rect x="1227.68" y="992.34" width="41.24" height="41.24" fill="#92a7c8"/><rect x="1268.62" y="992.34" width="41.24" height="41.24" fill="#87a0c4"/><rect x="1309.56" y="992.34" width="41.24" height="41.24" fill="#7594c0"/><rect x="1350.50" y="992.34" width="41.24" height="41.24" fill="#4a7bbc"/><rect x="1391.44" y="992.34" width="41.24" height="41.24" fill="#5c85bd"/><rect x="1432.38" y="992.34" width="41.24" height="41.24" fill="#7393c0"/><rect x="1473.32" y="992.34" width="41.24" height="41.24" fill="#5380bc"/><rect x="1514.26" y="992.34" width="41.24" height="41.24" fill="#3d74bc"/><rect x="1555.20" y="992.34" width="41.24" height="41.24" fill="#316fbc"/><rect x="1596.14" y="992.34" width="41.24" height="41.24" fill="#6a8dbf"/><rect x="327.00" y="1033.28" width="41.24" height="41.24" fill="#517fbc"/><rect x="367.94" y="1033.28" width="41.24" height="41.24" fill="#698cbe"/><rect x="408.88" y="1033.28" width="41.24" height="41.24" fill="#5c85bd"/><rect x="449.82" y="1033.28" width="41.24" height="41.24" fill="#6f91bf"/><rect x="490.76" y="1033.28" width="41.24" height="41.24" fill="#6c8ebf"/><rect x="531.70" y="1033.28" width="41.24" height="41.24" fill="#6087bd"/><rect x="572.64" y="1033.28" width="41.24" height="41.24" fill="#6087bd"/><rect x="613.58" y="1033.28" width="41.24" height="41.24" fill="#6087bd"/><rect x="654.52" y="1033.28" width="41.24" height="41.24" fill="#5c85bd"/><rect x="695.46" y="1033.28" width="41.24" height="41.24" fill="#6c8ebf"/><rect x="736.40" y="1033.28" width="41.24" height="41.24" fill="#6087bd"/><rect x="777.34" y="1033.28" width="41.24" height="41.24" fill="#5b84bd"/><rect x="818.28" y="1033.28" width="41.24" height="41.24" fill="#5b84bd"/><rect x="859.22" y="1033.28" width="41.24" height="41.24" fill="#6a8dbf"/><rect x="900.16" y="1033.28" width="41.24" height="41.24" fill="#698cbe"/><rect x="941.10" y="1033.28" width="41.24" height="41.24" fill="#5782bc"/><rect x="982.04" y="1033.28" width="41.24" height="41.24" fill="#4276bc"/><rect x="1022.98" y="1033.28" width="41.24" height="41.24" fill="#a9373b"/><rect x="1063.92" y="1033.28" width="41.24" height="41.24" fill="#f0dbda"/><rect x="1104.86" y="1033.28" width="41.24" height="41.24" fill="#bbc5d7"/><rect x="1145.80" y="1033.28" width="41.24" height="41.24" fill="#eeedf0"/><rect x="1186.74" y="1033.28" width="41.24" height="41.24" fill="#f9efee"/><rect x="1227.68" y="1033.28" width="41.24" height="41.24" fill="#698cbe"/><rect x="1268.62" y="1033.28" width="41.24" height="41.24" fill="#4c7cbc"/><rect x="1309.56" y="1033.28" width="41.24" height="41.24" fill="#5782bc"/><rect x="1350.50" y="1033.28" width="41.24" height="41.24" fill="#4c7cbc"/><rect x="1391.44" y="1033.28" width="41.24" height="41.24" fill="#5b84bd"/><rect x="1432.38" y="1033.28" width="41.24" height="41.24" fill="#5b84bd"/><rect x="1473.32" y="1033.28" width="41.24" height="41.24" fill="#8da4c6"/><rect x="1514.26" y="1033.28" width="41.24" height="41.24" fill="#87a0c4"/><rect x="1555.20" y="1033.28" width="41.24" height="41.24" fill="#7594c0"/><rect x="1596.14" y="1033.28" width="41.24" height="41.24" fill="#5c85bd"/><rect x="327.00" y="1074.22" width="41.24" height="41.24" fill="#5380bc"/><rect x="367.94" y="1074.22" width="41.24" height="41.24" fill="#698cbe"/><rect x="408.88" y="1074.22" width="41.24" height="41.24" fill="#6489be"/><rect x="449.82" y="1074.22" width="41.24" height="41.24" fill="#6489be"/><rect x="490.76" y="1074.22" width="41.24" height="41.24" fill="#678bbe"/><rect x="531.70" y="1074.22" width="41.24" height="41.24" fill="#6489be"/><rect x="572.64" y="1074.22" width="41.24" height="41.24" fill="#6489be"/><rect x="613.58" y="1074.22" width="41.24" height="41.24" fill="#678bbe"/><rect x="654.52" y="1074.22" width="41.24" height="41.24" fill="#5b84bd"/><rect x="695.46" y="1074.22" width="41.24" height="41.24" fill="#6087bd"/><rect x="736.40" y="1074.22" width="41.24" height="41.24" fill="#5b84bd"/><rect x="777.34" y="1074.22" width="41.24" height="41.24" fill="#4c7cbc"/><rect x="818.28" y="1074.22" width="41.24" height="41.24" fill="#4276bc"/><rect x="859.22" y="1074.22" width="41.24" height="41.24" fill="#5782bc"/><rect x="900.16" y="1074.22" width="41.24" height="41.24" fill="#517fbc"/><rect x="941.10" y="1074.22" width="41.24" height="41.24" fill="#517fbc"/><rect x="982.04" y="1074.22" width="41.24" height="41.24" fill="#4276bc"/><rect x="1022.98" y="1074.22" width="41.24" height="41.24" fill="#f0dbda"/><rect x="1063.92" y="1074.22" width="41.24" height="41.24" fill="#a9373b"/><rect x="1104.86" y="1074.22" width="41.24" height="41.24" fill="#f7f4f4"/><rect x="1145.80" y="1074.22" width="41.24" height="41.24" fill="#faf2f1"/><rect x="1186.74" y="1074.22" width="41.24" height="41.24" fill="#e9e9ed"/><rect x="1227.68" y="1074.22" width="41.24" height="41.24" fill="#6489be"/><rect x="1268.62" y="1074.22" width="41.24" height="41.24" fill="#5782bc"/><rect x="1309.56" y="1074.22" width="41.24" height="41.24" fill="#678bbe"/><rect x="1350.50" y="1074.22" width="41.24" height="41.24" fill="#4c7cbc"/><rect x="1391.44" y="1074.22" width="41.24" height="41.24" fill="#507ebc"/><rect x="1432.38" y="1074.22" width="41.24" height="41.24" fill="#4c7cbc"/><rect x="1473.32" y="1074.22" width="41.24" height="41.24" fill="#7e9ac2"/><rect x="1514.26" y="1074.22" width="41.24" height="41.24" fill="#7594c0"/><rect x="1555.20" y="1074.22" width="41.24" height="41.24" fill="#5b84bd"/><rect x="1596.14" y="1074.22" width="41.24" height="41.24" fill="#517fbc"/><rect x="327.00" y="1115.16" width="41.24" height="41.24" fill="#3f75bc"/><rect x="367.94" y="1115.16" width="41.24" height="41.24" fill="#4879bc"/><rect x="408.88" y="1115.16" width="41.24" height="41.24" fill="#4276bc"/><rect x="449.82" y="1115.16" width="41.24" height="41.24" fill="#3671bc"/><rect x="490.76" y="1115.16" width="41.24" height="41.24" fill="#3671bc"/><rect x="531.70" y="1115.16" width="41.24" height="41.24" fill="#4a7bbc"/><rect x="572.64" y="1115.16" width="41.24" height="41.24" fill="#4879bc"/><rect x="613.58" y="1115.16" width="41.24" height="41.24" fill="#3d74bc"/><rect x="654.52" y="1115.16" width="41.24" height="41.24" fill="#3f75bc"/><rect x="695.46" y="1115.16" width="41.24" height="41.24" fill="#3f75bc"/><rect x="736.40" y="1115.16" width="41.24" height="41.24" fill="#3671bc"/><rect x="777.34" y="1115.16" width="41.24" height="41.24" fill="#5c85bd"/><rect x="818.28" y="1115.16" width="41.24" height="41.24" fill="#507ebc"/><rect x="859.22" y="1115.16" width="41.24" height="41.24" fill="#6489be"/><rect x="900.16" y="1115.16" width="41.24" height="41.24" fill="#517fbc"/><rect x="941.10" y="1115.16" width="41.24" height="41.24" fill="#3f75bc"/><rect x="982.04" y="1115.16" width="41.24" height="41.24" fill="#316fbc"/><rect x="1022.98" y="1115.16" width="41.24" height="41.24" fill="#bbc5d7"/><rect x="1063.92" y="1115.16" width="41.24" height="41.24" fill="#f7f4f4"/><rect x="1104.86" y="1115.16" width="41.24" height="41.24" fill="#a9373b"/><rect x="1145.80" y="1115.16" width="41.24" height="41.24" fill="#f5f2f4"/><rect x="1186.74" y="1115.16" width="41.24" height="41.24" fill="#faf4f3"/><rect x="1227.68" y="1115.16" width="41.24" height="41.24" fill="#5782bc"/><rect x="1268.62" y="1115.16" width="41.24" height="41.24" fill="#6489be"/><rect x="1309.56" y="1115.16" width="41.24" height="41.24" fill="#7997c1"/><rect x="1350.50" y="1115.16" width="41.24" height="41.24" fill="#5782bc"/><rect x="1391.44" y="1115.16" width="41.24" height="41.24" fill="#4879bc"/><rect x="1432.38" y="1115.16" width="41.24" height="41.24" fill="#4678bc"/><rect x="1473.32" y="1115.16" width="41.24" height="41.24" fill="#88a1c5"/><rect x="1514.26" y="1115.16" width="41.24" height="41.24" fill="#517fbc"/><rect x="1555.20" y="1115.16" width="41.24" height="41.24" fill="#7393c0"/><rect x="1596.14" y="1115.16" width="41.24" height="41.24" fill="#698cbe"/><rect x="327.00" y="1156.10" width="41.24" height="41.24" fill="#5983bd"/><rect x="367.94" y="1156.10" width="41.24" height="41.24" fill="#4c7cbc"/><rect x="408.88" y="1156.10" width="41.24" height="41.24" fill="#4879bc"/><rect x="449.82" y="1156.10" width="41.24" height="41.24" fill="#4c7cbc"/><rect x="490.76" y="1156.10" width="41.24" height="41.24" fill="#507ebc"/><rect x="531.70" y="1156.10" width="41.24" height="41.24" fill="#5983bd"/><rect x="572.64" y="1156.10" width="41.24" height="41.24" fill="#4678bc"/><rect x="613.58" y="1156.10" width="41.24" height="41.24" fill="#4276bc"/><rect x="654.52" y="1156.10" width="41.24" height="41.24" fill="#3671bc"/><rect x="695.46" y="1156.10" width="41.24" height="41.24" fill="#4a7bbc"/><rect x="736.40" y="1156.10" width="41.24" height="41.24" fill="#4a7bbc"/><rect x="777.34" y="1156.10" width="41.24" height="41.24" fill="#678bbe"/><rect x="818.28" y="1156.10" width="41.24" height="41.24" fill="#5c85bd"/><rect x="859.22" y="1156.10" width="41.24" height="41.24" fill="#6a8dbf"/><rect x="900.16" y="1156.10" width="41.24" height="41.24" fill="#6288bd"/><rect x="941.10" y="1156.10" width="41.24" height="41.24" fill="#4a7bbc"/><rect x="982.04" y="1156.10" width="41.24" height="41.24" fill="#4276bc"/><rect x="1022.98" y="1156.10" width="41.24" height="41.24" fill="#eeedf0"/><rect x="1063.92" y="1156.10" width="41.24" height="41.24" fill="#faf2f1"/><rect x="1104.86" y="1156.10" width="41.24" height="41.24" fill="#f5f2f4"/><rect x="1145.80" y="1156.10" width="41.24" height="41.24" fill="#a9373b"/><rect x="1186.74" y="1156.10" width="41.24" height="41.24" fill="#d8a3a0"/><rect x="1227.68" y="1156.10" width="41.24" height="41.24" fill="#5b84bd"/><rect x="1268.62" y="1156.10" width="41.24" height="41.24" fill="#6489be"/><rect x="1309.56" y="1156.10" width="41.24" height="41.24" fill="#698cbe"/><rect x="1350.50" y="1156.10" width="41.24" height="41.24" fill="#3d74bc"/><rect x="1391.44" y="1156.10" width="41.24" height="41.24" fill="#507ebc"/><rect x="1432.38" y="1156.10" width="41.24" height="41.24" fill="#507ebc"/><rect x="1473.32" y="1156.10" width="41.24" height="41.24" fill="#829cc3"/><rect x="1514.26" y="1156.10" width="41.24" height="41.24" fill="#6288bd"/><rect x="1555.20" y="1156.10" width="41.24" height="41.24" fill="#698cbe"/><rect x="1596.14" y="1156.10" width="41.24" height="41.24" fill="#6c8ebf"/><rect x="327.00" y="1197.04" width="41.24" height="41.24" fill="#4c7cbc"/><rect x="367.94" y="1197.04" width="41.24" height="41.24" fill="#5380bc"/><rect x="408.88" y="1197.04" width="41.24" height="41.24" fill="#5782bc"/><rect x="449.82" y="1197.04" width="41.24" height="41.24" fill="#5380bc"/><rect x="490.76" y="1197.04" width="41.24" height="41.24" fill="#507ebc"/><rect x="531.70" y="1197.04" width="41.24" height="41.24" fill="#5380bc"/><rect x="572.64" y="1197.04" width="41.24" height="41.24" fill="#3d74bc"/><rect x="613.58" y="1197.04" width="41.24" height="41.24" fill="#507ebc"/><rect x="654.52" y="1197.04" width="41.24" height="41.24" fill="#4276bc"/><rect x="695.46" y="1197.04" width="41.24" height="41.24" fill="#517fbc"/><rect x="736.40" y="1197.04" width="41.24" height="41.24" fill="#507ebc"/><rect x="777.34" y="1197.04" width="41.24" height="41.24" fill="#6087bd"/><rect x="818.28" y="1197.04" width="41.24" height="41.24" fill="#5380bc"/><rect x="859.22" y="1197.04" width="41.24" height="41.24" fill="#6c8ebf"/><rect x="900.16" y="1197.04" width="41.24" height="41.24" fill="#6288bd"/><rect x="941.10" y="1197.04" width="41.24" height="41.24" fill="#3f75bc"/><rect x="982.04" y="1197.04" width="41.24" height="41.24" fill="#4276bc"/><rect x="1022.98" y="1197.04" width="41.24" height="41.24" fill="#f9efee"/><rect x="1063.92" y="1197.04" width="41.24" height="41.24" fill="#e9e9ed"/><rect x="1104.86" y="1197.04" width="41.24" height="41.24" fill="#faf4f3"/><rect x="1145.80" y="1197.04" width="41.24" height="41.24" fill="#d8a3a0"/><rect x="1186.74" y="1197.04" width="41.24" height="41.24" fill="#a9373b"/><rect x="1227.68" y="1197.04" width="41.24" height="41.24" fill="#5b84bd"/><rect x="1268.62" y="1197.04" width="41.24" height="41.24" fill="#6489be"/><rect x="1309.56" y="1197.04" width="41.24" height="41.24" fill="#6a8dbf"/><rect x="1350.50" y="1197.04" width="41.24" height="41.24" fill="#4a7bbc"/><rect x="1391.44" y="1197.04" width="41.24" height="41.24" fill="#517fbc"/><rect x="1432.38" y="1197.04" width="41.24" height="41.24" fill="#5b84bd"/><rect x="1473.32" y="1197.04" width="41.24" height="41.24" fill="#7997c1"/><rect x="1514.26" y="1197.04" width="41.24" height="41.24" fill="#5c85bd"/><rect x="1555.20" y="1197.04" width="41.24" height="41.24" fill="#7896c1"/><rect x="1596.14" y="1197.04" width="41.24" height="41.24" fill="#7896c1"/><rect x="327.00" y="1237.98" width="41.24" height="41.24" fill="#8da4c6"/><rect x="367.94" y="1237.98" width="41.24" height="41.24" fill="#95a9c8"/><rect x="408.88" y="1237.98" width="41.24" height="41.24" fill="#8aa2c5"/><rect x="449.82" y="1237.98" width="41.24" height="41.24" fill="#adbbd1"/><rect x="490.76" y="1237.98" width="41.24" height="41.24" fill="#a7b6ce"/><rect x="531.70" y="1237.98" width="41.24" height="41.24" fill="#9baecb"/><rect x="572.64" y="1237.98" width="41.24" height="41.24" fill="#9baecb"/><rect x="613.58" y="1237.98" width="41.24" height="41.24" fill="#88a1c5"/><rect x="654.52" y="1237.98" width="41.24" height="41.24" fill="#87a0c4"/><rect x="695.46" y="1237.98" width="41.24" height="41.24" fill="#829cc3"/><rect x="736.40" y="1237.98" width="41.24" height="41.24" fill="#7896c1"/><rect x="777.34" y="1237.98" width="41.24" height="41.24" fill="#87a0c4"/><rect x="818.28" y="1237.98" width="41.24" height="41.24" fill="#92a7c8"/><rect x="859.22" y="1237.98" width="41.24" height="41.24" fill="#88a1c5"/><rect x="900.16" y="1237.98" width="41.24" height="41.24" fill="#839dc4"/><rect x="941.10" y="1237.98" width="41.24" height="41.24" fill="#95a9c8"/><rect x="982.04" y="1237.98" width="41.24" height="41.24" fill="#92a7c8"/><rect x="1022.98" y="1237.98" width="41.24" height="41.24" fill="#698cbe"/><rect x="1063.92" y="1237.98" width="41.24" height="41.24" fill="#6489be"/><rect x="1104.86" y="1237.98" width="41.24" height="41.24" fill="#5782bc"/><rect x="1145.80" y="1237.98" width="41.24" height="41.24" fill="#5b84bd"/><rect x="1186.74" y="1237.98" width="41.24" height="41.24" fill="#5b84bd"/><rect x="1227.68" y="1237.98" width="41.24" height="41.24" fill="#a9373b"/><rect x="1268.62" y="1237.98" width="41.24" height="41.24" fill="#e1e2e9"/><rect x="1309.56" y="1237.98" width="41.24" height="41.24" fill="#8aa2c5"/><rect x="1350.50" y="1237.98" width="41.24" height="41.24" fill="#6087bd"/><rect x="1391.44" y="1237.98" width="41.24" height="41.24" fill="#678bbe"/><rect x="1432.38" y="1237.98" width="41.24" height="41.24" fill="#7393c0"/><rect x="1473.32" y="1237.98" width="41.24" height="41.24" fill="#afbcd1"/><rect x="1514.26" y="1237.98" width="41.24" height="41.24" fill="#517fbc"/><rect x="1555.20" y="1237.98" width="41.24" height="41.24" fill="#3671bc"/><rect x="1596.14" y="1237.98" width="41.24" height="41.24" fill="#7e9ac2"/><rect x="327.00" y="1278.92" width="41.24" height="41.24" fill="#7192c0"/><rect x="367.94" y="1278.92" width="41.24" height="41.24" fill="#7896c1"/><rect x="408.88" y="1278.92" width="41.24" height="41.24" fill="#90a6c7"/><rect x="449.82" y="1278.92" width="41.24" height="41.24" fill="#7896c1"/><rect x="490.76" y="1278.92" width="41.24" height="41.24" fill="#7997c1"/><rect x="531.70" y="1278.92" width="41.24" height="41.24" fill="#7997c1"/><rect x="572.64" y="1278.92" width="41.24" height="41.24" fill="#6a8dbf"/><rect x="613.58" y="1278.92" width="41.24" height="41.24" fill="#4a7bbc"/><rect x="654.52" y="1278.92" width="41.24" height="41.24" fill="#4c7cbc"/><rect x="695.46" y="1278.92" width="41.24" height="41.24" fill="#517fbc"/><rect x="736.40" y="1278.92" width="41.24" height="41.24" fill="#4879bc"/><rect x="777.34" y="1278.92" width="41.24" height="41.24" fill="#4276bc"/><rect x="818.28" y="1278.92" width="41.24" height="41.24" fill="#5c85bd"/><rect x="859.22" y="1278.92" width="41.24" height="41.24" fill="#4678bc"/><rect x="900.16" y="1278.92" width="41.24" height="41.24" fill="#4879bc"/><rect x="941.10" y="1278.92" width="41.24" height="41.24" fill="#7594c0"/><rect x="982.04" y="1278.92" width="41.24" height="41.24" fill="#87a0c4"/><rect x="1022.98" y="1278.92" width="41.24" height="41.24" fill="#4c7cbc"/><rect x="1063.92" y="1278.92" width="41.24" height="41.24" fill="#5782bc"/><rect x="1104.86" y="1278.92" width="41.24" height="41.24" fill="#6489be"/><rect x="1145.80" y="1278.92" width="41.24" height="41.24" fill="#6489be"/><rect x="1186.74" y="1278.92" width="41.24" height="41.24" fill="#6489be"/><rect x="1227.68" y="1278.92" width="41.24" height="41.24" fill="#e1e2e9"/><rect x="1268.62" y="1278.92" width="41.24" height="41.24" fill="#a9373b"/><rect x="1309.56" y="1278.92" width="41.24" height="41.24" fill="#d0d5e0"/><rect x="1350.50" y="1278.92" width="41.24" height="41.24" fill="#4678bc"/><rect x="1391.44" y="1278.92" width="41.24" height="41.24" fill="#2c6dbc"/><rect x="1432.38" y="1278.92" width="41.24" height="41.24" fill="#3671bc"/><rect x="1473.32" y="1278.92" width="41.24" height="41.24" fill="#6489be"/><rect x="1514.26" y="1278.92" width="41.24" height="41.24" fill="#4a7bbc"/><rect x="1555.20" y="1278.92" width="41.24" height="41.24" fill="#296cbc"/><rect x="1596.14" y="1278.92" width="41.24" height="41.24" fill="#4a7bbc"/><rect x="327.00" y="1319.86" width="41.24" height="41.24" fill="#517fbc"/><rect x="367.94" y="1319.86" width="41.24" height="41.24" fill="#517fbc"/><rect x="408.88" y="1319.86" width="41.24" height="41.24" fill="#678bbe"/><rect x="449.82" y="1319.86" width="41.24" height="41.24" fill="#3f75bc"/><rect x="490.76" y="1319.86" width="41.24" height="41.24" fill="#5782bc"/><rect x="531.70" y="1319.86" width="41.24" height="41.24" fill="#507ebc"/><rect x="572.64" y="1319.86" width="41.24" height="41.24" fill="#507ebc"/><rect x="613.58" y="1319.86" width="41.24" height="41.24" fill="#507ebc"/><rect x="654.52" y="1319.86" width="41.24" height="41.24" fill="#4c7cbc"/><rect x="695.46" y="1319.86" width="41.24" height="41.24" fill="#507ebc"/><rect x="736.40" y="1319.86" width="41.24" height="41.24" fill="#4879bc"/><rect x="777.34" y="1319.86" width="41.24" height="41.24" fill="#4276bc"/><rect x="818.28" y="1319.86" width="41.24" height="41.24" fill="#3972bc"/><rect x="859.22" y="1319.86" width="41.24" height="41.24" fill="#4678bc"/><rect x="900.16" y="1319.86" width="41.24" height="41.24" fill="#3671bc"/><rect x="941.10" y="1319.86" width="41.24" height="41.24" fill="#4c7cbc"/><rect x="982.04" y="1319.86" width="41.24" height="41.24" fill="#7594c0"/><rect x="1022.98" y="1319.86" width="41.24" height="41.24" fill="#5782bc"/><rect x="1063.92" y="1319.86" width="41.24" height="41.24" fill="#678bbe"/><rect x="1104.86" y="1319.86" width="41.24" height="41.24" fill="#7997c1"/><rect x="1145.80" y="1319.86" width="41.24" height="41.24" fill="#698cbe"/><rect x="1186.74" y="1319.86" width="41.24" height="41.24" fill="#6a8dbf"/><rect x="1227.68" y="1319.86" width="41.24" height="41.24" fill="#8aa2c5"/><rect x="1268.62" y="1319.86" width="41.24" height="41.24" fill="#d0d5e0"/><rect x="1309.56" y="1319.86" width="41.24" height="41.24" fill="#a9373b"/><rect x="1350.50" y="1319.86" width="41.24" height="41.24" fill="#6087bd"/><rect x="1391.44" y="1319.86" width="41.24" height="41.24" fill="#3671bc"/><rect x="1432.38" y="1319.86" width="41.24" height="41.24" fill="#4879bc"/><rect x="1473.32" y="1319.86" width="41.24" height="41.24" fill="#6c8ebf"/><rect x="1514.26" y="1319.86" width="41.24" height="41.24" fill="#6489be"/><rect x="1555.20" y="1319.86" width="41.24" height="41.24" fill="#3671bc"/><rect x="1596.14" y="1319.86" width="41.24" height="41.24" fill="#4c7cbc"/><rect x="327.00" y="1360.80" width="41.24" height="41.24" fill="#5380bc"/><rect x="367.94" y="1360.80" width="41.24" height="41.24" fill="#3d74bc"/><rect x="408.88" y="1360.80" width="41.24" height="41.24" fill="#3d74bc"/><rect x="449.82" y="1360.80" width="41.24" height="41.24" fill="#507ebc"/><rect x="490.76" y="1360.80" width="41.24" height="41.24" fill="#507ebc"/><rect x="531.70" y="1360.80" width="41.24" height="41.24" fill="#5380bc"/><rect x="572.64" y="1360.80" width="41.24" height="41.24" fill="#3f75bc"/><rect x="613.58" y="1360.80" width="41.24" height="41.24" fill="#5b84bd"/><rect x="654.52" y="1360.80" width="41.24" height="41.24" fill="#507ebc"/><rect x="695.46" y="1360.80" width="41.24" height="41.24" fill="#5b84bd"/><rect x="736.40" y="1360.80" width="41.24" height="41.24" fill="#6c8ebf"/><rect x="777.34" y="1360.80" width="41.24" height="41.24" fill="#5380bc"/><rect x="818.28" y="1360.80" width="41.24" height="41.24" fill="#5983bd"/><rect x="859.22" y="1360.80" width="41.24" height="41.24" fill="#4678bc"/><rect x="900.16" y="1360.80" width="41.24" height="41.24" fill="#5c85bd"/><rect x="941.10" y="1360.80" width="41.24" height="41.24" fill="#5380bc"/><rect x="982.04" y="1360.80" width="41.24" height="41.24" fill="#4a7bbc"/><rect x="1022.98" y="1360.80" width="41.24" height="41.24" fill="#4c7cbc"/><rect x="1063.92" y="1360.80" width="41.24" height="41.24" fill="#4c7cbc"/><rect x="1104.86" y="1360.80" width="41.24" height="41.24" fill="#5782bc"/><rect x="1145.80" y="1360.80" width="41.24" height="41.24" fill="#3d74bc"/><rect x="1186.74" y="1360.80" width="41.24" height="41.24" fill="#4a7bbc"/><rect x="1227.68" y="1360.80" width="41.24" height="41.24" fill="#6087bd"/><rect x="1268.62" y="1360.80" width="41.24" height="41.24" fill="#4678bc"/><rect x="1309.56" y="1360.80" width="41.24" height="41.24" fill="#6087bd"/><rect x="1350.50" y="1360.80" width="41.24" height="41.24" fill="#a9373b"/><rect x="1391.44" y="1360.80" width="41.24" height="41.24" fill="#7e9ac2"/><rect x="1432.38" y="1360.80" width="41.24" height="41.24" fill="#9baecb"/><rect x="1473.32" y="1360.80" width="41.24" height="41.24" fill="#5782bc"/><rect x="1514.26" y="1360.80" width="41.24" height="41.24" fill="#7192c0"/><rect x="1555.20" y="1360.80" width="41.24" height="41.24" fill="#5b84bd"/><rect x="1596.14" y="1360.80" width="41.24" height="41.24" fill="#6c8ebf"/><rect x="327.00" y="1401.74" width="41.24" height="41.24" fill="#7997c1"/><rect x="367.94" y="1401.74" width="41.24" height="41.24" fill="#829cc3"/><rect x="408.88" y="1401.74" width="41.24" height="41.24" fill="#8aa2c5"/><rect x="449.82" y="1401.74" width="41.24" height="41.24" fill="#9dafcb"/><rect x="490.76" y="1401.74" width="41.24" height="41.24" fill="#90a6c7"/><rect x="531.70" y="1401.74" width="41.24" height="41.24" fill="#90a6c7"/><rect x="572.64" y="1401.74" width="41.24" height="41.24" fill="#7e9ac2"/><rect x="613.58" y="1401.74" width="41.24" height="41.24" fill="#bbc5d7"/><rect x="654.52" y="1401.74" width="41.24" height="41.24" fill="#bdc6d7"/><rect x="695.46" y="1401.74" width="41.24" height="41.24" fill="#d0d5e0"/><rect x="736.40" y="1401.74" width="41.24" height="41.24" fill="#ebeaee"/><rect x="777.34" y="1401.74" width="41.24" height="41.24" fill="#9fb0cc"/><rect x="818.28" y="1401.74" width="41.24" height="41.24" fill="#b5c0d4"/><rect x="859.22" y="1401.74" width="41.24" height="41.24" fill="#7b98c2"/><rect x="900.16" y="1401.74" width="41.24" height="41.24" fill="#90a6c7"/><rect x="941.10" y="1401.74" width="41.24" height="41.24" fill="#7997c1"/><rect x="982.04" y="1401.74" width="41.24" height="41.24" fill="#5c85bd"/><rect x="1022.98" y="1401.74" width="41.24" height="41.24" fill="#5b84bd"/><rect x="1063.92" y="1401.74" width="41.24" height="41.24" fill="#507ebc"/><rect x="1104.86" y="1401.74" width="41.24" height="41.24" fill="#4879bc"/><rect x="1145.80" y="1401.74" width="41.24" height="41.24" fill="#507ebc"/><rect x="1186.74" y="1401.74" width="41.24" height="41.24" fill="#517fbc"/><rect x="1227.68" y="1401.74" width="41.24" height="41.24" fill="#678bbe"/><rect x="1268.62" y="1401.74" width="41.24" height="41.24" fill="#2c6dbc"/><rect x="1309.56" y="1401.74" width="41.24" height="41.24" fill="#3671bc"/><rect x="1350.50" y="1401.74" width="41.24" height="41.24" fill="#7e9ac2"/><rect x="1391.44" y="1401.74" width="41.24" height="41.24" fill="#a9373b"/><rect x="1432.38" y="1401.74" width="41.24" height="41.24" fill="#d4d8e2"/><rect x="1473.32" y="1401.74" width="41.24" height="41.24" fill="#6489be"/><rect x="1514.26" y="1401.74" width="41.24" height="41.24" fill="#6489be"/><rect x="1555.20" y="1401.74" width="41.24" height="41.24" fill="#6489be"/><rect x="1596.14" y="1401.74" width="41.24" height="41.24" fill="#5b84bd"/><rect x="327.00" y="1442.68" width="41.24" height="41.24" fill="#698cbe"/><rect x="367.94" y="1442.68" width="41.24" height="41.24" fill="#6f91bf"/><rect x="408.88" y="1442.68" width="41.24" height="41.24" fill="#7192c0"/><rect x="449.82" y="1442.68" width="41.24" height="41.24" fill="#7896c1"/><rect x="490.76" y="1442.68" width="41.24" height="41.24" fill="#7997c1"/><rect x="531.70" y="1442.68" width="41.24" height="41.24" fill="#7e9ac2"/><rect x="572.64" y="1442.68" width="41.24" height="41.24" fill="#7896c1"/><rect x="613.58" y="1442.68" width="41.24" height="41.24" fill="#7b98c2"/><rect x="654.52" y="1442.68" width="41.24" height="41.24" fill="#7896c1"/><rect x="695.46" y="1442.68" width="41.24" height="41.24" fill="#7997c1"/><rect x="736.40" y="1442.68" width="41.24" height="41.24" fill="#7e9ac2"/><rect x="777.34" y="1442.68" width="41.24" height="41.24" fill="#8aa2c5"/><rect x="818.28" y="1442.68" width="41.24" height="41.24" fill="#8fa5c7"/><rect x="859.22" y="1442.68" width="41.24" height="41.24" fill="#7192c0"/><rect x="900.16" y="1442.68" width="41.24" height="41.24" fill="#7393c0"/><rect x="941.10" y="1442.68" width="41.24" height="41.24" fill="#7896c1"/><rect x="982.04" y="1442.68" width="41.24" height="41.24" fill="#7393c0"/><rect x="1022.98" y="1442.68" width="41.24" height="41.24" fill="#5b84bd"/><rect x="1063.92" y="1442.68" width="41.24" height="41.24" fill="#4c7cbc"/><rect x="1104.86" y="1442.68" width="41.24" height="41.24" fill="#4678bc"/><rect x="1145.80" y="1442.68" width="41.24" height="41.24" fill="#507ebc"/><rect x="1186.74" y="1442.68" width="41.24" height="41.24" fill="#5b84bd"/><rect x="1227.68" y="1442.68" width="41.24" height="41.24" fill="#7393c0"/><rect x="1268.62" y="1442.68" width="41.24" height="41.24" fill="#3671bc"/><rect x="1309.56" y="1442.68" width="41.24" height="41.24" fill="#4879bc"/><rect x="1350.50" y="1442.68" width="41.24" height="41.24" fill="#9baecb"/><rect x="1391.44" y="1442.68" width="41.24" height="41.24" fill="#d4d8e2"/><rect x="1432.38" y="1442.68" width="41.24" height="41.24" fill="#a9373b"/><rect x="1473.32" y="1442.68" width="41.24" height="41.24" fill="#5b84bd"/><rect x="1514.26" y="1442.68" width="41.24" height="41.24" fill="#6489be"/><rect x="1555.20" y="1442.68" width="41.24" height="41.24" fill="#5782bc"/><rect x="1596.14" y="1442.68" width="41.24" height="41.24" fill="#6c8ebf"/><rect x="327.00" y="1483.62" width="41.24" height="41.24" fill="#6087bd"/><rect x="367.94" y="1483.62" width="41.24" height="41.24" fill="#4879bc"/><rect x="408.88" y="1483.62" width="41.24" height="41.24" fill="#5782bc"/><rect x="449.82" y="1483.62" width="41.24" height="41.24" fill="#5782bc"/><rect x="490.76" y="1483.62" width="41.24" height="41.24" fill="#507ebc"/><rect x="531.70" y="1483.62" width="41.24" height="41.24" fill="#517fbc"/><rect x="572.64" y="1483.62" width="41.24" height="41.24" fill="#4879bc"/><rect x="613.58" y="1483.62" width="41.24" height="41.24" fill="#6489be"/><rect x="654.52" y="1483.62" width="41.24" height="41.24" fill="#5c85bd"/><rect x="695.46" y="1483.62" width="41.24" height="41.24" fill="#6288bd"/><rect x="736.40" y="1483.62" width="41.24" height="41.24" fill="#5782bc"/><rect x="777.34" y="1483.62" width="41.24" height="41.24" fill="#9dafcb"/><rect x="818.28" y="1483.62" width="41.24" height="41.24" fill="#9fb0cc"/><rect x="859.22" y="1483.62" width="41.24" height="41.24" fill="#809bc3"/><rect x="900.16" y="1483.62" width="41.24" height="41.24" fill="#6288bd"/><rect x="941.10" y="1483.62" width="41.24" height="41.24" fill="#5380bc"/><rect x="982.04" y="1483.62" width="41.24" height="41.24" fill="#5380bc"/><rect x="1022.98" y="1483.62" width="41.24" height="41.24" fill="#8da4c6"/><rect x="1063.92" y="1483.62" width="41.24" height="41.24" fill="#7e9ac2"/><rect x="1104.86" y="1483.62" width="41.24" height="41.24" fill="#88a1c5"/><rect x="1145.80" y="1483.62" width="41.24" height="41.24" fill="#829cc3"/><rect x="1186.74" y="1483.62" width="41.24" height="41.24" fill="#7997c1"/><rect x="1227.68" y="1483.62" width="41.24" height="41.24" fill="#afbcd1"/><rect x="1268.62" y="1483.62" width="41.24" height="41.24" fill="#6489be"/><rect x="1309.56" y="1483.62" width="41.24" height="41.24" fill="#6c8ebf"/><rect x="1350.50" y="1483.62" width="41.24" height="41.24" fill="#5782bc"/><rect x="1391.44" y="1483.62" width="41.24" height="41.24" fill="#6489be"/><rect x="1432.38" y="1483.62" width="41.24" height="41.24" fill="#5b84bd"/><rect x="1473.32" y="1483.62" width="41.24" height="41.24" fill="#a9373b"/><rect x="1514.26" y="1483.62" width="41.24" height="41.24" fill="#7192c0"/><rect x="1555.20" y="1483.62" width="41.24" height="41.24" fill="#6c8ebf"/><rect x="1596.14" y="1483.62" width="41.24" height="41.24" fill="#7393c0"/><rect x="327.00" y="1524.56" width="41.24" height="41.24" fill="#5782bc"/><rect x="367.94" y="1524.56" width="41.24" height="41.24" fill="#3671bc"/><rect x="408.88" y="1524.56" width="41.24" height="41.24" fill="#5782bc"/><rect x="449.82" y="1524.56" width="41.24" height="41.24" fill="#4879bc"/><rect x="490.76" y="1524.56" width="41.24" height="41.24" fill="#4c7cbc"/><rect x="531.70" y="1524.56" width="41.24" height="41.24" fill="#3671bc"/><rect x="572.64" y="1524.56" width="41.24" height="41.24" fill="#3671bc"/><rect x="613.58" y="1524.56" width="41.24" height="41.24" fill="#5983bd"/><rect x="654.52" y="1524.56" width="41.24" height="41.24" fill="#5782bc"/><rect x="695.46" y="1524.56" width="41.24" height="41.24" fill="#5983bd"/><rect x="736.40" y="1524.56" width="41.24" height="41.24" fill="#5782bc"/><rect x="777.34" y="1524.56" width="41.24" height="41.24" fill="#678bbe"/><rect x="818.28" y="1524.56" width="41.24" height="41.24" fill="#698cbe"/><rect x="859.22" y="1524.56" width="41.24" height="41.24" fill="#5c85bd"/><rect x="900.16" y="1524.56" width="41.24" height="41.24" fill="#5983bd"/><rect x="941.10" y="1524.56" width="41.24" height="41.24" fill="#4a7bbc"/><rect x="982.04" y="1524.56" width="41.24" height="41.24" fill="#3d74bc"/><rect x="1022.98" y="1524.56" width="41.24" height="41.24" fill="#87a0c4"/><rect x="1063.92" y="1524.56" width="41.24" height="41.24" fill="#7594c0"/><rect x="1104.86" y="1524.56" width="41.24" height="41.24" fill="#517fbc"/><rect x="1145.80" y="1524.56" width="41.24" height="41.24" fill="#6288bd"/><rect x="1186.74" y="1524.56" width="41.24" height="41.24" fill="#5c85bd"/><rect x="1227.68" y="1524.56" width="41.24" height="41.24" fill="#517fbc"/><rect x="1268.62" y="1524.56" width="41.24" height="41.24" fill="#4a7bbc"/><rect x="1309.56" y="1524.56" width="41.24" height="41.24" fill="#6489be"/><rect x="1350.50" y="1524.56" width="41.24" height="41.24" fill="#7192c0"/><rect x="1391.44" y="1524.56" width="41.24" height="41.24" fill="#6489be"/><rect x="1432.38" y="1524.56" width="41.24" height="41.24" fill="#6489be"/><rect x="1473.32" y="1524.56" width="41.24" height="41.24" fill="#7192c0"/><rect x="1514.26" y="1524.56" width="41.24" height="41.24" fill="#a9373b"/><rect x="1555.20" y="1524.56" width="41.24" height="41.24" fill="#7997c1"/><rect x="1596.14" y="1524.56" width="41.24" height="41.24" fill="#7594c0"/><rect x="327.00" y="1565.50" width="41.24" height="41.24" fill="#87a0c4"/><rect x="367.94" y="1565.50" width="41.24" height="41.24" fill="#6087bd"/><rect x="408.88" y="1565.50" width="41.24" height="41.24" fill="#698cbe"/><rect x="449.82" y="1565.50" width="41.24" height="41.24" fill="#7192c0"/><rect x="490.76" y="1565.50" width="41.24" height="41.24" fill="#6f91bf"/><rect x="531.70" y="1565.50" width="41.24" height="41.24" fill="#6087bd"/><rect x="572.64" y="1565.50" width="41.24" height="41.24" fill="#5c85bd"/><rect x="613.58" y="1565.50" width="41.24" height="41.24" fill="#4276bc"/><rect x="654.52" y="1565.50" width="41.24" height="41.24" fill="#3f75bc"/><rect x="695.46" y="1565.50" width="41.24" height="41.24" fill="#3470bc"/><rect x="736.40" y="1565.50" width="41.24" height="41.24" fill="#4879bc"/><rect x="777.34" y="1565.50" width="41.24" height="41.24" fill="#698cbe"/><rect x="818.28" y="1565.50" width="41.24" height="41.24" fill="#698cbe"/><rect x="859.22" y="1565.50" width="41.24" height="41.24" fill="#97abc9"/><rect x="900.16" y="1565.50" width="41.24" height="41.24" fill="#698cbe"/><rect x="941.10" y="1565.50" width="41.24" height="41.24" fill="#87a0c4"/><rect x="982.04" y="1565.50" width="41.24" height="41.24" fill="#316fbc"/><rect x="1022.98" y="1565.50" width="41.24" height="41.24" fill="#7594c0"/><rect x="1063.92" y="1565.50" width="41.24" height="41.24" fill="#5b84bd"/><rect x="1104.86" y="1565.50" width="41.24" height="41.24" fill="#7393c0"/><rect x="1145.80" y="1565.50" width="41.24" height="41.24" fill="#698cbe"/><rect x="1186.74" y="1565.50" width="41.24" height="41.24" fill="#7896c1"/><rect x="1227.68" y="1565.50" width="41.24" height="41.24" fill="#3671bc"/><rect x="1268.62" y="1565.50" width="41.24" height="41.24" fill="#296cbc"/><rect x="1309.56" y="1565.50" width="41.24" height="41.24" fill="#3671bc"/><rect x="1350.50" y="1565.50" width="41.24" height="41.24" fill="#5b84bd"/><rect x="1391.44" y="1565.50" width="41.24" height="41.24" fill="#6489be"/><rect x="1432.38" y="1565.50" width="41.24" height="41.24" fill="#5782bc"/><rect x="1473.32" y="1565.50" width="41.24" height="41.24" fill="#6c8ebf"/><rect x="1514.26" y="1565.50" width="41.24" height="41.24" fill="#7997c1"/><rect x="1555.20" y="1565.50" width="41.24" height="41.24" fill="#a9373b"/><rect x="1596.14" y="1565.50" width="41.24" height="41.24" fill="#f1eff2"/><rect x="327.00" y="1606.44" width="41.24" height="41.24" fill="#6f91bf"/><rect x="367.94" y="1606.44" width="41.24" height="41.24" fill="#4276bc"/><rect x="408.88" y="1606.44" width="41.24" height="41.24" fill="#5380bc"/><rect x="449.82" y="1606.44" width="41.24" height="41.24" fill="#678bbe"/><rect x="490.76" y="1606.44" width="41.24" height="41.24" fill="#5782bc"/><rect x="531.70" y="1606.44" width="41.24" height="41.24" fill="#6489be"/><rect x="572.64" y="1606.44" width="41.24" height="41.24" fill="#5c85bd"/><rect x="613.58" y="1606.44" width="41.24" height="41.24" fill="#5b84bd"/><rect x="654.52" y="1606.44" width="41.24" height="41.24" fill="#5b84bd"/><rect x="695.46" y="1606.44" width="41.24" height="41.24" fill="#6288bd"/><rect x="736.40" y="1606.44" width="41.24" height="41.24" fill="#6489be"/><rect x="777.34" y="1606.44" width="41.24" height="41.24" fill="#6489be"/><rect x="818.28" y="1606.44" width="41.24" height="41.24" fill="#6288bd"/><rect x="859.22" y="1606.44" width="41.24" height="41.24" fill="#7997c1"/><rect x="900.16" y="1606.44" width="41.24" height="41.24" fill="#6489be"/><rect x="941.10" y="1606.44" width="41.24" height="41.24" fill="#7594c0"/><rect x="982.04" y="1606.44" width="41.24" height="41.24" fill="#6a8dbf"/><rect x="1022.98" y="1606.44" width="41.24" height="41.24" fill="#5c85bd"/><rect x="1063.92" y="1606.44" width="41.24" height="41.24" fill="#517fbc"/><rect x="1104.86" y="1606.44" width="41.24" height="41.24" fill="#698cbe"/><rect x="1145.80" y="1606.44" width="41.24" height="41.24" fill="#6c8ebf"/><rect x="1186.74" y="1606.44" width="41.24" height="41.24" fill="#7896c1"/><rect x="1227.68" y="1606.44" width="41.24" height="41.24" fill="#7e9ac2"/><rect x="1268.62" y="1606.44" width="41.24" height="41.24" fill="#4a7bbc"/><rect x="1309.56" y="1606.44" width="41.24" height="41.24" fill="#4c7cbc"/><rect x="1350.50" y="1606.44" width="41.24" height="41.24" fill="#6c8ebf"/><rect x="1391.44" y="1606.44" width="41.24" height="41.24" fill="#5b84bd"/><rect x="1432.38" y="1606.44" width="41.24" height="41.24" fill="#6c8ebf"/><rect x="1473.32" y="1606.44" width="41.24" height="41.24" fill="#7393c0"/><rect x="1514.26" y="1606.44" width="41.24" height="41.24" fill="#7594c0"/><rect x="1555.20" y="1606.44" width="41.24" height="41.24" fill="#f1eff2"/><rect x="1596.14" y="1606.44" width="41.24" height="41.24" fill="#a9373b"/></g>
<path d="M367.94 337.30V1647.38M327.00 378.24H1637.08M408.88 337.30V1647.38M327.00 419.18H1637.08M449.82 337.30V1647.38M327.00 460.12H1637.08M490.76 337.30V1647.38M327.00 501.06H1637.08M531.70 337.30V1647.38M327.00 542.00H1637.08M572.64 337.30V1647.38M327.00 582.94H1637.08M613.58 337.30V1647.38M327.00 623.88H1637.08M654.52 337.30V1647.38M327.00 664.82H1637.08M695.46 337.30V1647.38M327.00 705.76H1637.08M736.40 337.30V1647.38M327.00 746.70H1637.08M777.34 337.30V1647.38M327.00 787.64H1637.08M818.28 337.30V1647.38M327.00 828.58H1637.08M859.22 337.30V1647.38M327.00 869.52H1637.08M900.16 337.30V1647.38M327.00 910.46H1637.08M941.10 337.30V1647.38M327.00 951.40H1637.08M982.04 337.30V1647.38M327.00 992.34H1637.08M1022.98 337.30V1647.38M327.00 1033.28H1637.08M1063.92 337.30V1647.38M327.00 1074.22H1637.08M1104.86 337.30V1647.38M327.00 1115.16H1637.08M1145.80 337.30V1647.38M327.00 1156.10H1637.08M1186.74 337.30V1647.38M327.00 1197.04H1637.08M1227.68 337.30V1647.38M327.00 1237.98H1637.08M1268.62 337.30V1647.38M327.00 1278.92H1637.08M1309.56 337.30V1647.38M327.00 1319.86H1637.08M1350.50 337.30V1647.38M327.00 1360.80H1637.08M1391.44 337.30V1647.38M327.00 1401.74H1637.08M1432.38 337.30V1647.38M327.00 1442.68H1637.08M1473.32 337.30V1647.38M327.00 1483.62H1637.08M1514.26 337.30V1647.38M327.00 1524.56H1637.08M1555.20 337.30V1647.38M327.00 1565.50H1637.08M1596.14 337.30V1647.38M327.00 1606.44H1637.08" stroke="#fff" stroke-opacity="0.27" stroke-width="2.4" fill="none"/>
<line x1="1637.1" y1="357.77" x2="1646.1" y2="357.77" stroke="#111" stroke-width="2"/>
<text x="1654.9" y="367.07" font-size="25.5" fill="#000">Hy0206</text>
<line x1="1637.1" y1="398.71" x2="1646.1" y2="398.71" stroke="#111" stroke-width="2"/>
<text x="1654.9" y="408.01" font-size="25.5" fill="#000">Hy5031</text>
<line x1="1637.1" y1="439.65" x2="1646.1" y2="439.65" stroke="#111" stroke-width="2"/>
<text x="1654.9" y="448.95" font-size="25.5" fill="#000">Hy0208</text>
<line x1="1637.1" y1="480.59" x2="1646.1" y2="480.59" stroke="#111" stroke-width="2"/>
<text x="1654.9" y="489.89" font-size="25.5" fill="#000">Hy0073</text>
<line x1="1637.1" y1="521.53" x2="1646.1" y2="521.53" stroke="#111" stroke-width="2"/>
<text x="1654.9" y="530.83" font-size="25.5" fill="#000">Hy0164</text>
<line x1="1637.1" y1="562.47" x2="1646.1" y2="562.47" stroke="#111" stroke-width="2"/>
<text x="1654.9" y="571.77" font-size="25.5" fill="#000">Hy0207</text>
<line x1="1637.1" y1="603.41" x2="1646.1" y2="603.41" stroke="#111" stroke-width="2"/>
<text x="1654.9" y="612.71" font-size="25.5" fill="#000">Hy5091</text>
<line x1="1637.1" y1="644.35" x2="1646.1" y2="644.35" stroke="#111" stroke-width="2"/>
<text x="1654.9" y="653.65" font-size="25.5" fill="#000">Hy0187</text>
<line x1="1637.1" y1="685.29" x2="1646.1" y2="685.29" stroke="#111" stroke-width="2"/>
<text x="1654.9" y="694.59" font-size="25.5" fill="#000">Hy0190</text>
<line x1="1637.1" y1="726.23" x2="1646.1" y2="726.23" stroke="#111" stroke-width="2"/>
<text x="1654.9" y="735.53" font-size="25.5" fill="#000">Hy0185</text>
<line x1="1637.1" y1="767.17" x2="1646.1" y2="767.17" stroke="#111" stroke-width="2"/>
<text x="1654.9" y="776.47" font-size="25.5" fill="#000">Hy0186</text>
<line x1="1637.1" y1="808.11" x2="1646.1" y2="808.11" stroke="#111" stroke-width="2"/>
<text x="1654.9" y="817.41" font-size="25.5" fill="#000">Hm0001</text>
<line x1="1637.1" y1="849.05" x2="1646.1" y2="849.05" stroke="#111" stroke-width="2"/>
<text x="1654.9" y="858.35" font-size="25.5" fill="#000">Hm0002</text>
<line x1="1637.1" y1="889.99" x2="1646.1" y2="889.99" stroke="#111" stroke-width="2"/>
<text x="1654.9" y="899.29" font-size="25.5" fill="#000">Hy0072</text>
<line x1="1637.1" y1="930.93" x2="1646.1" y2="930.93" stroke="#111" stroke-width="2"/>
<text x="1654.9" y="940.23" font-size="25.5" fill="#000">Hy5055</text>
<line x1="1637.1" y1="971.87" x2="1646.1" y2="971.87" stroke="#111" stroke-width="2"/>
<text x="1654.9" y="981.17" font-size="25.5" fill="#000">Hm0003</text>
<line x1="1637.1" y1="1012.81" x2="1646.1" y2="1012.81" stroke="#111" stroke-width="2"/>
<text x="1654.9" y="1022.11" font-size="25.5" fill="#000">Hy0056</text>
<line x1="1637.1" y1="1053.75" x2="1646.1" y2="1053.75" stroke="#111" stroke-width="2"/>
<text x="1654.9" y="1063.05" font-size="25.5" fill="#000">Hy0123</text>
<line x1="1637.1" y1="1094.69" x2="1646.1" y2="1094.69" stroke="#111" stroke-width="2"/>
<text x="1654.9" y="1103.99" font-size="25.5" fill="#000">Hy0215</text>
<line x1="1637.1" y1="1135.63" x2="1646.1" y2="1135.63" stroke="#111" stroke-width="2"/>
<text x="1654.9" y="1144.93" font-size="25.5" fill="#000">Hy0205</text>
<line x1="1637.1" y1="1176.57" x2="1646.1" y2="1176.57" stroke="#111" stroke-width="2"/>
<text x="1654.9" y="1185.87" font-size="25.5" fill="#000">Hy0213</text>
<line x1="1637.1" y1="1217.51" x2="1646.1" y2="1217.51" stroke="#111" stroke-width="2"/>
<text x="1654.9" y="1226.81" font-size="25.5" fill="#000">Hy0214</text>
<line x1="1637.1" y1="1258.45" x2="1646.1" y2="1258.45" stroke="#111" stroke-width="2"/>
<text x="1654.9" y="1267.75" font-size="25.5" fill="#000">Hy0147</text>
<line x1="1637.1" y1="1299.39" x2="1646.1" y2="1299.39" stroke="#111" stroke-width="2"/>
<text x="1654.9" y="1308.69" font-size="25.5" fill="#000">Hy0130</text>
<line x1="1637.1" y1="1340.33" x2="1646.1" y2="1340.33" stroke="#111" stroke-width="2"/>
<text x="1654.9" y="1349.63" font-size="25.5" fill="#000">Hy0159</text>
<line x1="1637.1" y1="1381.27" x2="1646.1" y2="1381.27" stroke="#111" stroke-width="2"/>
<text x="1654.9" y="1390.57" font-size="25.5" fill="#000">Hy0158</text>
<line x1="1637.1" y1="1422.21" x2="1646.1" y2="1422.21" stroke="#111" stroke-width="2"/>
<text x="1654.9" y="1431.51" font-size="25.5" fill="#000">Hy0070</text>
<line x1="1637.1" y1="1463.15" x2="1646.1" y2="1463.15" stroke="#111" stroke-width="2"/>
<text x="1654.9" y="1472.45" font-size="25.5" fill="#000">Hy0152</text>
<line x1="1637.1" y1="1504.09" x2="1646.1" y2="1504.09" stroke="#111" stroke-width="2"/>
<text x="1654.9" y="1513.39" font-size="25.5" fill="#000">Hy0150</text>
<line x1="1637.1" y1="1545.03" x2="1646.1" y2="1545.03" stroke="#111" stroke-width="2"/>
<text x="1654.9" y="1554.33" font-size="25.5" fill="#000">Hy0149</text>
<line x1="1637.1" y1="1585.97" x2="1646.1" y2="1585.97" stroke="#111" stroke-width="2"/>
<text x="1654.9" y="1595.27" font-size="25.5" fill="#000">Hy0145</text>
<line x1="1637.1" y1="1626.91" x2="1646.1" y2="1626.91" stroke="#111" stroke-width="2"/>
<text x="1654.9" y="1636.21" font-size="25.5" fill="#000">Hy0151</text>
<line x1="347.47" y1="1647.4" x2="347.47" y2="1656.4" stroke="#111" stroke-width="2"/>
<text transform="translate(356.77,1668.4) rotate(-90)" text-anchor="end" font-size="25.5" fill="#000">Hy0206</text>
<line x1="388.41" y1="1647.4" x2="388.41" y2="1656.4" stroke="#111" stroke-width="2"/>
<text transform="translate(397.71,1668.4) rotate(-90)" text-anchor="end" font-size="25.5" fill="#000">Hy5031</text>
<line x1="429.35" y1="1647.4" x2="429.35" y2="1656.4" stroke="#111" stroke-width="2"/>
<text transform="translate(438.65,1668.4) rotate(-90)" text-anchor="end" font-size="25.5" fill="#000">Hy0208</text>
<line x1="470.29" y1="1647.4" x2="470.29" y2="1656.4" stroke="#111" stroke-width="2"/>
<text transform="translate(479.59,1668.4) rotate(-90)" text-anchor="end" font-size="25.5" fill="#000">Hy0073</text>
<line x1="511.23" y1="1647.4" x2="511.23" y2="1656.4" stroke="#111" stroke-width="2"/>
<text transform="translate(520.53,1668.4) rotate(-90)" text-anchor="end" font-size="25.5" fill="#000">Hy0164</text>
<line x1="552.17" y1="1647.4" x2="552.17" y2="1656.4" stroke="#111" stroke-width="2"/>
<text transform="translate(561.47,1668.4) rotate(-90)" text-anchor="end" font-size="25.5" fill="#000">Hy0207</text>
<line x1="593.11" y1="1647.4" x2="593.11" y2="1656.4" stroke="#111" stroke-width="2"/>
<text transform="translate(602.41,1668.4) rotate(-90)" text-anchor="end" font-size="25.5" fill="#000">Hy5091</text>
<line x1="634.05" y1="1647.4" x2="634.05" y2="1656.4" stroke="#111" stroke-width="2"/>
<text transform="translate(643.35,1668.4) rotate(-90)" text-anchor="end" font-size="25.5" fill="#000">Hy0187</text>
<line x1="674.99" y1="1647.4" x2="674.99" y2="1656.4" stroke="#111" stroke-width="2"/>
<text transform="translate(684.29,1668.4) rotate(-90)" text-anchor="end" font-size="25.5" fill="#000">Hy0190</text>
<line x1="715.93" y1="1647.4" x2="715.93" y2="1656.4" stroke="#111" stroke-width="2"/>
<text transform="translate(725.23,1668.4) rotate(-90)" text-anchor="end" font-size="25.5" fill="#000">Hy0185</text>
<line x1="756.87" y1="1647.4" x2="756.87" y2="1656.4" stroke="#111" stroke-width="2"/>
<text transform="translate(766.17,1668.4) rotate(-90)" text-anchor="end" font-size="25.5" fill="#000">Hy0186</text>
<line x1="797.81" y1="1647.4" x2="797.81" y2="1656.4" stroke="#111" stroke-width="2"/>
<text transform="translate(807.11,1668.4) rotate(-90)" text-anchor="end" font-size="25.5" fill="#000">Hm0001</text>
<line x1="838.75" y1="1647.4" x2="838.75" y2="1656.4" stroke="#111" stroke-width="2"/>
<text transform="translate(848.05,1668.4) rotate(-90)" text-anchor="end" font-size="25.5" fill="#000">Hm0002</text>
<line x1="879.69" y1="1647.4" x2="879.69" y2="1656.4" stroke="#111" stroke-width="2"/>
<text transform="translate(888.99,1668.4) rotate(-90)" text-anchor="end" font-size="25.5" fill="#000">Hy0072</text>
<line x1="920.63" y1="1647.4" x2="920.63" y2="1656.4" stroke="#111" stroke-width="2"/>
<text transform="translate(929.93,1668.4) rotate(-90)" text-anchor="end" font-size="25.5" fill="#000">Hy5055</text>
<line x1="961.57" y1="1647.4" x2="961.57" y2="1656.4" stroke="#111" stroke-width="2"/>
<text transform="translate(970.87,1668.4) rotate(-90)" text-anchor="end" font-size="25.5" fill="#000">Hm0003</text>
<line x1="1002.51" y1="1647.4" x2="1002.51" y2="1656.4" stroke="#111" stroke-width="2"/>
<text transform="translate(1011.81,1668.4) rotate(-90)" text-anchor="end" font-size="25.5" fill="#000">Hy0056</text>
<line x1="1043.45" y1="1647.4" x2="1043.45" y2="1656.4" stroke="#111" stroke-width="2"/>
<text transform="translate(1052.75,1668.4) rotate(-90)" text-anchor="end" font-size="25.5" fill="#000">Hy0123</text>
<line x1="1084.39" y1="1647.4" x2="1084.39" y2="1656.4" stroke="#111" stroke-width="2"/>
<text transform="translate(1093.69,1668.4) rotate(-90)" text-anchor="end" font-size="25.5" fill="#000">Hy0215</text>
<line x1="1125.33" y1="1647.4" x2="1125.33" y2="1656.4" stroke="#111" stroke-width="2"/>
<text transform="translate(1134.63,1668.4) rotate(-90)" text-anchor="end" font-size="25.5" fill="#000">Hy0205</text>
<line x1="1166.27" y1="1647.4" x2="1166.27" y2="1656.4" stroke="#111" stroke-width="2"/>
<text transform="translate(1175.57,1668.4) rotate(-90)" text-anchor="end" font-size="25.5" fill="#000">Hy0213</text>
<line x1="1207.21" y1="1647.4" x2="1207.21" y2="1656.4" stroke="#111" stroke-width="2"/>
<text transform="translate(1216.51,1668.4) rotate(-90)" text-anchor="end" font-size="25.5" fill="#000">Hy0214</text>
<line x1="1248.15" y1="1647.4" x2="1248.15" y2="1656.4" stroke="#111" stroke-width="2"/>
<text transform="translate(1257.45,1668.4) rotate(-90)" text-anchor="end" font-size="25.5" fill="#000">Hy0147</text>
<line x1="1289.09" y1="1647.4" x2="1289.09" y2="1656.4" stroke="#111" stroke-width="2"/>
<text transform="translate(1298.39,1668.4) rotate(-90)" text-anchor="end" font-size="25.5" fill="#000">Hy0130</text>
<line x1="1330.03" y1="1647.4" x2="1330.03" y2="1656.4" stroke="#111" stroke-width="2"/>
<text transform="translate(1339.33,1668.4) rotate(-90)" text-anchor="end" font-size="25.5" fill="#000">Hy0159</text>
<line x1="1370.97" y1="1647.4" x2="1370.97" y2="1656.4" stroke="#111" stroke-width="2"/>
<text transform="translate(1380.27,1668.4) rotate(-90)" text-anchor="end" font-size="25.5" fill="#000">Hy0158</text>
<line x1="1411.91" y1="1647.4" x2="1411.91" y2="1656.4" stroke="#111" stroke-width="2"/>
<text transform="translate(1421.21,1668.4) rotate(-90)" text-anchor="end" font-size="25.5" fill="#000">Hy0070</text>
<line x1="1452.85" y1="1647.4" x2="1452.85" y2="1656.4" stroke="#111" stroke-width="2"/>
<text transform="translate(1462.15,1668.4) rotate(-90)" text-anchor="end" font-size="25.5" fill="#000">Hy0152</text>
<line x1="1493.79" y1="1647.4" x2="1493.79" y2="1656.4" stroke="#111" stroke-width="2"/>
<text transform="translate(1503.09,1668.4) rotate(-90)" text-anchor="end" font-size="25.5" fill="#000">Hy0150</text>
<line x1="1534.73" y1="1647.4" x2="1534.73" y2="1656.4" stroke="#111" stroke-width="2"/>
<text transform="translate(1544.03,1668.4) rotate(-90)" text-anchor="end" font-size="25.5" fill="#000">Hy0149</text>
<line x1="1575.67" y1="1647.4" x2="1575.67" y2="1656.4" stroke="#111" stroke-width="2"/>
<text transform="translate(1584.97,1668.4) rotate(-90)" text-anchor="end" font-size="25.5" fill="#000">Hy0145</text>
<line x1="1616.61" y1="1647.4" x2="1616.61" y2="1656.4" stroke="#111" stroke-width="2"/>
<text transform="translate(1625.91,1668.4) rotate(-90)" text-anchor="end" font-size="25.5" fill="#000">Hy0151</text>
<path d="M470.29 335.60V286.50H511.23V335.60M429.35 335.60V254.00H490.76V286.50M552.17 335.60V244.00H593.11V335.60M460.06 254.00V240.30H572.64V244.00M388.41 335.60V232.80H516.35V240.30M347.47 335.60V210.50H452.38V232.80M634.05 335.60V298.20H674.99V335.60M715.93 335.60V287.70H756.87V335.60M654.52 298.20V271.50H736.40V287.70M797.81 335.60V302.10H838.75V335.60M879.69 335.60V266.10H920.63V335.60M961.57 335.60V196.70H1002.51V335.60M900.16 266.10V165.50H982.04V196.70M818.28 302.10V129.50H941.10V165.50M695.46 271.50V117.50H879.69V129.50M399.92 210.50V105.70H787.58V117.50M1043.45 335.60V237.50H1084.39V335.60M1166.27 335.60V270.60H1207.21V335.60M1125.33 335.60V205.50H1186.74V270.60M1063.92 237.50V197.30H1156.03V205.50M1289.09 335.60V181.50H1330.03V335.60M1248.15 335.60V151.70H1309.56V181.50M1411.91 335.60V181.10H1452.85V335.60M1370.97 335.60V132.20H1432.38V181.10M1575.67 335.60V202.90H1616.61V335.60M1534.73 335.60V139.70H1596.14V202.90M1493.79 335.60V131.40H1565.43V139.70M1401.67 132.20V110.70H1529.61V131.40M1278.86 151.70V95.70H1465.64V110.70M1109.98 197.30V80.60H1372.25V95.70M593.75 105.70V24.30H1241.11V80.60" stroke="#6e6e6e" stroke-width="2.0" fill="none" stroke-linejoin="miter"/>
<path d="M326.20 480.59H276.30V521.53H326.20M326.20 439.65H243.80V501.06H276.30M326.20 562.47H233.80V603.41H326.20M243.80 470.36H230.10V582.94H233.80M326.20 398.71H222.60V526.65H230.10M326.20 357.77H200.30V462.68H222.60M326.20 644.35H288.00V685.29H326.20M326.20 726.23H277.50V767.17H326.20M288.00 664.82H261.30V746.70H277.50M326.20 808.11H291.90V849.05H326.20M326.20 889.99H255.90V930.93H326.20M326.20 971.87H186.50V1012.81H326.20M255.90 910.46H155.30V992.34H186.50M291.90 828.58H119.30V951.40H155.30M261.30 705.76H107.30V889.99H119.30M200.30 410.22H95.50V797.88H107.30M326.20 1053.75H227.30V1094.69H326.20M326.20 1176.57H260.40V1217.51H326.20M326.20 1135.63H195.30V1197.04H260.40M227.30 1074.22H187.10V1166.34H195.30M326.20 1299.39H171.30V1340.33H326.20M326.20 1258.45H141.50V1319.86H171.30M326.20 1422.21H170.90V1463.15H326.20M326.20 1381.27H122.00V1442.68H170.90M326.20 1585.97H192.70V1626.91H326.20M326.20 1545.03H129.50V1606.44H192.70M326.20 1504.09H121.20V1575.73H129.50M122.00 1411.97H100.50V1539.91H121.20M141.50 1289.15H85.50V1475.94H100.50M187.10 1120.28H70.40V1382.55H85.50M95.50 604.05H14.10V1251.41H70.40" stroke="#737373" stroke-width="2.0" fill="none" stroke-linejoin="miter"/>
<polygon points="1762.4,1427.3 1804.3,1406.4 1804.3,1420.4 1880.8,1420.4 1880.8,1434.2 1804.3,1434.2 1804.3,1448.2" fill="#f20000"/>
</svg></body></html>
